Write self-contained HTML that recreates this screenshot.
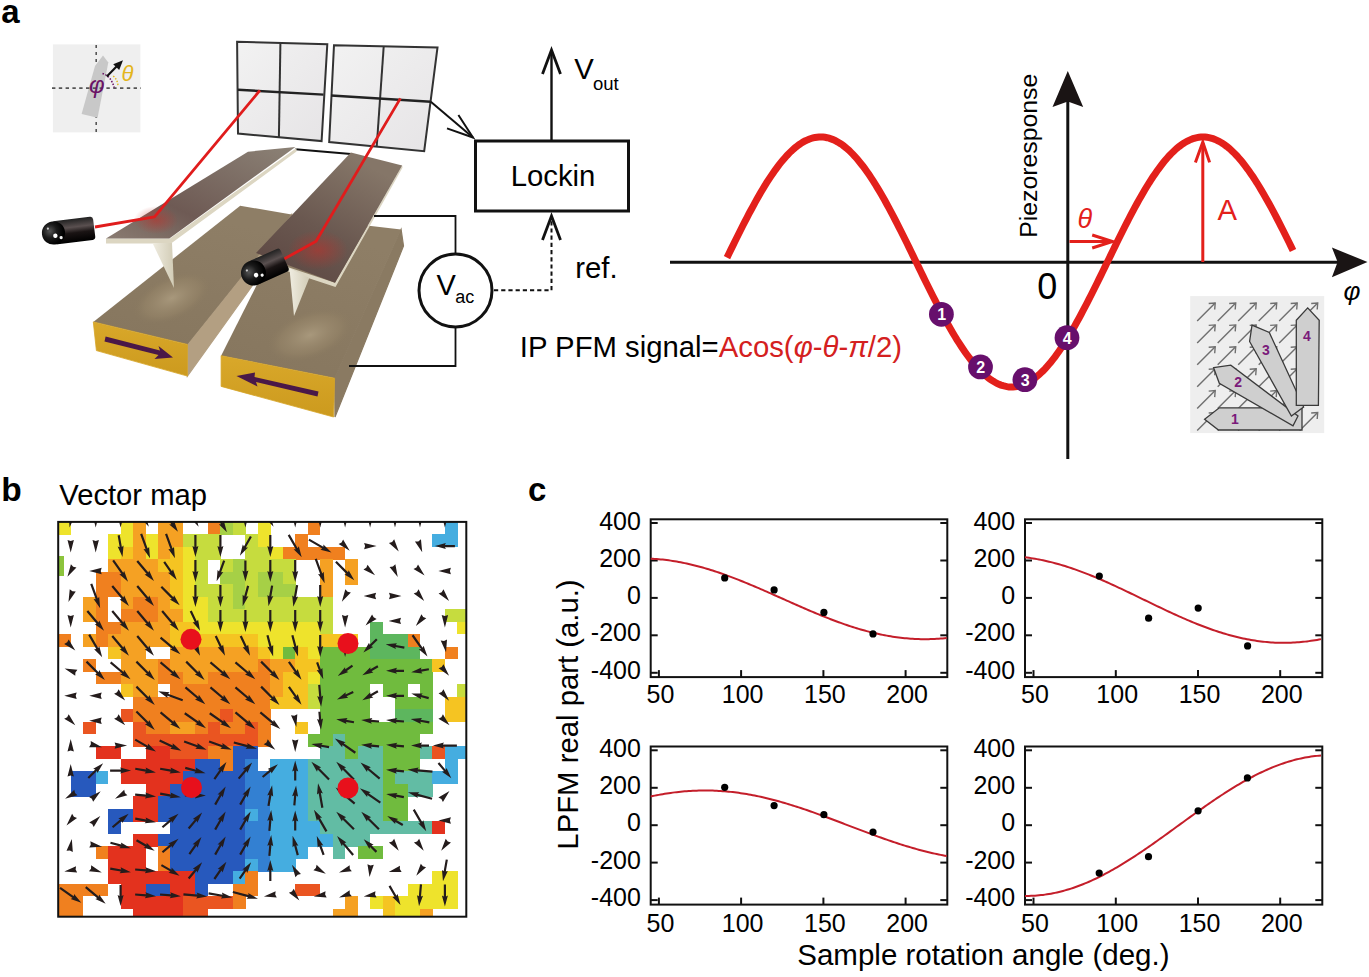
<!DOCTYPE html>
<html><head><meta charset="utf-8"><style>
html,body{margin:0;padding:0;background:#fff;}
svg{display:block;}
</style></head><body>
<svg width="1369" height="977" viewBox="0 0 1369 977">
<rect width="1369" height="977" fill="#fff"/>
<text x="1.3" y="23" font-size="33" font-weight="bold" font-family="Liberation Sans, sans-serif">a</text>
<text x="1.3" y="501.3" font-size="33.5" font-weight="bold" font-family="Liberation Sans, sans-serif">b</text>
<text x="528" y="500.8" font-size="33" font-weight="bold" font-family="Liberation Sans, sans-serif">c</text>
<text x="59.3" y="504.5" font-size="29.2" font-family="Liberation Sans, sans-serif">Vector map</text>
<defs>
<linearGradient id="cantA" x1="0" y1="1" x2="1" y2="0"><stop offset="0" stop-color="#8a7c72"/><stop offset="0.35" stop-color="#6e5a54"/><stop offset="1" stop-color="#8c8276"/></linearGradient>
<linearGradient id="cantB" x1="0" y1="1" x2="0.6" y2="0"><stop offset="0" stop-color="#5a4440"/><stop offset="0.5" stop-color="#6a5850"/><stop offset="1" stop-color="#857668"/></linearGradient>
<radialGradient id="glow" cx="0.5" cy="0.5" r="0.5"><stop offset="0" stop-color="#c0302a" stop-opacity="0.55"/><stop offset="1" stop-color="#c0302a" stop-opacity="0"/></radialGradient>
<linearGradient id="blockTop" x1="0" y1="1" x2="0.4" y2="0"><stop offset="0" stop-color="#86765e"/><stop offset="1" stop-color="#8e7e66"/></linearGradient>
<radialGradient id="bump" cx="0.5" cy="0.5" r="0.5"><stop offset="0" stop-color="#a8987c"/><stop offset="0.7" stop-color="#958468" stop-opacity="0.6"/><stop offset="1" stop-color="#8a7a60" stop-opacity="0"/></radialGradient>
<linearGradient id="gold" x1="0" y1="0" x2="0" y2="1"><stop offset="0" stop-color="#d9a82a"/><stop offset="1" stop-color="#cc9a1e"/></linearGradient>
<linearGradient id="det" x1="0" y1="0" x2="1" y2="1"><stop offset="0" stop-color="#f2f2f2"/><stop offset="1" stop-color="#e6e4e6"/></linearGradient>
<radialGradient id="lasball" cx="0.35" cy="0.4" r="0.6"><stop offset="0" stop-color="#555"/><stop offset="0.5" stop-color="#1a1a1a"/><stop offset="1" stop-color="#000"/></radialGradient>
<linearGradient id="lascyl" x1="0" y1="0" x2="0" y2="1"><stop offset="0" stop-color="#222"/><stop offset="0.35" stop-color="#5a5050"/><stop offset="0.6" stop-color="#1a1414"/><stop offset="1" stop-color="#000"/></linearGradient>
<linearGradient id="tipg" x1="0" y1="0" x2="1" y2="0"><stop offset="0" stop-color="#efece0"/><stop offset="1" stop-color="#d2ccb6"/></linearGradient>
</defs>
<polygon points="237.1,41.8 327.3,44.2 321.6,141.1 238,133.5" fill="url(#det)" stroke="#333" stroke-width="2"/>
<line x1="280.4" y1="43.3" x2="278.9" y2="137.3" stroke="#333" stroke-width="2"/><line x1="238" y1="89.8" x2="323.5" y2="94.6" stroke="#222" stroke-width="2.4"/>
<polygon points="334,45.2 437.5,47.5 424.2,151.2 329.2,142" fill="url(#det)" stroke="#333" stroke-width="2"/>
<line x1="383.7" y1="46.5" x2="376.7" y2="146.8" stroke="#333" stroke-width="2"/><line x1="331.1" y1="95.5" x2="430.8" y2="101.8" stroke="#222" stroke-width="2.4"/>
<line x1="295.4" y1="149.3" x2="350.9" y2="154.1" stroke="#111" stroke-width="2"/>
<polygon points="187.4,344.4 291.6,214.5 291.6,231 187.4,376.1" fill="#b39f82" stroke="#b39f82" stroke-width="1.2"/>
<polygon points="93.3,321.9 240.2,205.7 291.6,214.5 187.4,344.4" fill="url(#blockTop)"/>
<ellipse cx="172" cy="298" rx="42" ry="22" transform="rotate(-25 172 298)" fill="url(#bump)"/>
<polygon points="93.3,321.9 187.4,344.4 187.4,376.1 96.4,350.6" fill="url(#gold)" stroke="#d6a428" stroke-width="0.8"/>
<path d="M105.6,336.5 L160,350.5 L158.5,346 L173,357.5 L154.5,359 L158.5,355 L104.5,341.5 Z" fill="#4a1848"/>
<polygon points="334.6,378.2 401.1,229.4 403.5,246 335,417" fill="#8a7a62" stroke="#8a7a62" stroke-width="1.2"/>
<polygon points="221.1,355.7 290.5,218 371,226.1 401.1,229.4 334.6,378.2" fill="url(#blockTop)"/>
<ellipse cx="310" cy="335" rx="45" ry="24" transform="rotate(-20 310 335)" fill="url(#bump)"/>
<polygon points="221.1,355.7 334.6,378.2 333.6,417 221.1,386.4" fill="url(#gold)" stroke="#d6a428" stroke-width="0.8"/>
<path d="M317.5,396.5 L256,382 L257.5,386.5 L236.5,376 L255,372.5 L254.5,377 L318.5,391.5 Z" fill="#4a1848"/>
<polygon points="106,238.5 170,238.5 296.5,148 296.5,151.5 171,243.5 106,243.5" fill="#dcd6c2"/>
<polygon points="106,238.5 248,151.7 295.4,146.9 169.3,238.5" fill="url(#cantA)"/>
<ellipse cx="156" cy="220" rx="22" ry="14" fill="url(#glow)"/>
<polygon points="152.5,243 172,243 174,288" fill="url(#tipg)"/>
<polygon points="286.8,266.8 335,282.8 402.2,165.6 402.6,167.5 335.5,287 286.8,271" fill="#dcd6c2"/>
<polygon points="256,253 350.9,152.5 402.2,165.6 335,282.8" fill="url(#cantB)"/>
<ellipse cx="318" cy="250" rx="30" ry="20" fill="url(#glow)"/>
<polygon points="289.4,268 309.3,278 294,316" fill="url(#tipg)"/>
<polyline points="95,227 154.5,216.8 259.9,90.4" fill="none" stroke="#e01c1c" stroke-width="2.8" stroke-linejoin="round"/>
<polyline points="284,259 316.1,241.3 400.4,98.4" fill="none" stroke="#e01c1c" stroke-width="2.8" stroke-linejoin="round"/>
<g transform="translate(53.5,233) rotate(-7)"><rect x="0" y="-11.6" width="41" height="23.2" rx="3" fill="url(#lascyl)"/><circle cx="0" cy="0" r="11.6" fill="url(#lasball)"/><circle cx="1.5" cy="3" r="2.2" fill="#fff"/><circle cx="7" cy="5.5" r="1.6" fill="#f4f4f4"/><circle cx="-5" cy="-5" r="1.1" fill="#ccc"/></g>
<g transform="translate(253.5,273) rotate(-24)"><rect x="0" y="-12.5" width="34" height="25.0" rx="3" fill="url(#lascyl)"/><circle cx="0" cy="0" r="12.5" fill="url(#lasball)"/><circle cx="1.5" cy="3" r="2.2" fill="#fff"/><circle cx="7" cy="5.5" r="1.6" fill="#f4f4f4"/><circle cx="-5" cy="-5" r="1.1" fill="#ccc"/></g>
<g stroke="#111" fill="none">
<rect x="475.5" y="141" width="153" height="70" stroke-width="3"/>
<line x1="551.5" y1="140" x2="551.5" y2="51" stroke-width="2.4"/>
<polyline points="542.5,74 551.5,50 560.5,74" stroke-width="2.8"/>
<polyline points="494,290.3 551.5,290.3 551.5,218" stroke-width="2" stroke-dasharray="4.2,3"/>
<polyline points="542.5,240 551.5,216 560.5,240" stroke-width="2.8"/>
<circle cx="455.5" cy="290.5" r="36.5" stroke-width="3"/>
<polyline points="374,216 455.5,216 455.5,254" stroke-width="1.8"/>
<polyline points="455.5,327 455.5,366 349,366" stroke-width="1.8"/>
<line x1="430.8" y1="101.8" x2="473" y2="137.5" stroke-width="2"/>
<polyline points="458.4,115 473,137.5 447,128.4" stroke-width="2"/>
</g>
<text x="510.7" y="186.2" font-size="29.3" font-family="Liberation Sans, sans-serif">Lockin</text>
<text x="574.2" y="79.1" font-size="29.3" font-family="Liberation Sans, sans-serif">V</text>
<text x="593" y="89.8" font-size="18.5" font-family="Liberation Sans, sans-serif">out</text>
<text x="575.2" y="278.3" font-size="29.3" font-family="Liberation Sans, sans-serif">ref.</text>
<text x="436.6" y="294.5" font-size="29" font-family="Liberation Sans, sans-serif">V</text>
<text x="455.3" y="302.9" font-size="18" font-family="Liberation Sans, sans-serif">ac</text>
<text x="519.8" y="356.6" font-size="29.3" font-family="Liberation Sans, sans-serif">IP PFM signal=<tspan fill="#d42020">Acos(<tspan font-style="italic">φ</tspan>-<tspan font-style="italic">θ</tspan>-<tspan font-style="italic">π</tspan>/2)</tspan></text>
<line x1="670" y1="262.2" x2="1340" y2="262.2" stroke="#111" stroke-width="3"/>
<path d="M1367.5,262.1 L1331.9,247.4 L1337.6,262.1 L1331.9,277.3 Z" fill="#1a1414"/>
<line x1="1067.8" y1="459" x2="1067.8" y2="100" stroke="#111" stroke-width="3"/>
<path d="M1067.8,71 L1052.5,107 L1067.8,101.5 L1083.2,107 Z" fill="#1a1414"/>
<polyline points="727.0,257.6 729.0,253.5 731.0,249.4 733.0,245.4 735.0,241.3 737.0,237.3 739.0,233.3 741.0,229.3 743.0,225.3 745.0,221.4 747.0,217.6 749.0,213.7 751.0,210.0 753.0,206.3 755.0,202.6 757.0,199.1 759.0,195.5 761.0,192.1 763.0,188.7 765.0,185.4 767.0,182.2 769.0,179.1 771.0,176.1 773.0,173.2 775.0,170.3 777.0,167.6 779.0,164.9 781.0,162.4 783.0,160.0 785.0,157.7 787.0,155.5 789.0,153.4 791.0,151.4 793.0,149.5 795.0,147.8 797.0,146.2 799.0,144.7 801.0,143.4 803.0,142.1 805.0,141.0 807.0,140.1 809.0,139.2 811.0,138.5 813.0,137.9 815.0,137.5 817.0,137.2 819.0,137.0 821.0,137.0 823.0,137.1 825.0,137.3 827.0,137.7 829.0,138.2 831.0,138.9 833.0,139.6 835.0,140.5 837.0,141.6 839.0,142.7 841.0,144.0 843.0,145.4 845.0,147.0 847.0,148.7 849.0,150.4 851.0,152.4 853.0,154.4 855.0,156.5 857.0,158.8 859.0,161.2 861.0,163.7 863.0,166.2 865.0,168.9 867.0,171.7 869.0,174.6 871.0,177.6 873.0,180.7 875.0,183.8 877.0,187.1 879.0,190.4 881.0,193.8 883.0,197.3 885.0,200.8 887.0,204.5 889.0,208.1 891.0,211.9 893.0,215.7 895.0,219.5 897.0,223.4 899.0,227.3 901.0,231.3 903.0,235.3 905.0,239.3 907.0,243.3 909.0,247.4 911.0,251.5 913.0,255.6 915.0,259.7 917.0,263.8 919.0,267.9 921.0,272.0 923.0,276.1 925.0,280.2 927.0,284.2 929.0,288.2 931.0,292.2 933.0,296.2 935.0,300.1 937.0,304.0 939.0,307.9 941.0,311.7 943.0,315.4 945.0,319.1 947.0,322.7 949.0,326.3 951.0,329.8 953.0,333.2 955.0,336.5 957.0,339.8 959.0,342.9 961.0,346.0 963.0,349.0 965.0,351.9 967.0,354.7 969.0,357.4 971.0,360.0 973.0,362.5 975.0,364.9 977.0,367.2 979.0,369.3 981.0,371.4 983.0,373.3 985.0,375.1 987.0,376.8 989.0,378.4 991.0,379.8 993.0,381.1 995.0,382.3 997.0,383.3 999.0,384.3 1001.0,385.1 1003.0,385.7 1005.0,386.2 1007.0,386.6 1009.0,386.9 1011.0,387.0 1013.0,387.0 1015.0,386.8 1017.0,386.5 1019.0,386.1 1021.0,385.6 1023.0,384.9 1025.0,384.1 1027.0,383.1 1029.0,382.0 1031.0,380.8 1033.0,379.5 1035.0,378.0 1037.0,376.4 1039.0,374.7 1041.0,372.8 1043.0,370.9 1045.0,368.8 1047.0,366.6 1049.0,364.3 1051.0,361.9 1053.0,359.4 1055.0,356.8 1057.0,354.0 1059.0,351.2 1061.0,348.3 1063.0,345.3 1065.0,342.2 1067.0,339.0 1069.0,335.7 1071.0,332.3 1073.0,328.9 1075.0,325.4 1077.0,321.8 1079.0,318.2 1081.0,314.5 1083.0,310.7 1085.0,306.9 1087.0,303.1 1089.0,299.2 1091.0,295.2 1093.0,291.2 1095.0,287.2 1097.0,283.2 1099.0,279.1 1101.0,275.1 1103.0,271.0 1105.0,266.9 1107.0,262.8 1109.0,258.7 1111.0,254.6 1113.0,250.5 1115.0,246.4 1117.0,242.3 1119.0,238.3 1121.0,234.3 1123.0,230.3 1125.0,226.3 1127.0,222.4 1129.0,218.5 1131.0,214.7 1133.0,210.9 1135.0,207.2 1137.0,203.5 1139.0,199.9 1141.0,196.4 1143.0,193.0 1145.0,189.6 1147.0,186.3 1149.0,183.0 1151.0,179.9 1153.0,176.8 1155.0,173.9 1157.0,171.0 1159.0,168.3 1161.0,165.6 1163.0,163.0 1165.0,160.6 1167.0,158.2 1169.0,156.0 1171.0,153.9 1173.0,151.9 1175.0,150.0 1177.0,148.2 1179.0,146.6 1181.0,145.1 1183.0,143.7 1185.0,142.4 1187.0,141.3 1189.0,140.3 1191.0,139.4 1193.0,138.7 1195.0,138.1 1197.0,137.6 1199.0,137.3 1201.0,137.1 1203.0,137.0 1205.0,137.1 1207.0,137.3 1209.0,137.6 1211.0,138.1 1213.0,138.7 1215.0,139.4 1217.0,140.3 1219.0,141.3 1221.0,142.4 1223.0,143.7 1225.0,145.1 1227.0,146.6 1229.0,148.2 1231.0,150.0 1233.0,151.9 1235.0,153.9 1237.0,156.0 1239.0,158.2 1241.0,160.6 1243.0,163.0 1245.0,165.6 1247.0,168.3 1249.0,171.0 1251.0,173.9 1253.0,176.8 1255.0,179.9 1257.0,183.0 1259.0,186.3 1261.0,189.6 1263.0,193.0 1265.0,196.4 1267.0,199.9 1269.0,203.5 1271.0,207.2 1273.0,210.9 1275.0,214.7 1277.0,218.5 1279.0,222.4 1281.0,226.3 1283.0,230.3 1285.0,234.3 1287.0,238.3 1289.0,242.3 1291.0,246.4 1293.0,250.5" fill="none" stroke="#e3201b" stroke-width="7"/>
<g stroke="#e3201b" stroke-width="3" fill="none"><line x1="1069.5" y1="241.5" x2="1111" y2="241.5"/><polyline points="1092.2,235 1112.5,241.5 1092.2,248"/>
<line x1="1202.8" y1="262" x2="1202.8" y2="143"/><polyline points="1195.4,162.4 1202.8,142 1209.6,162.4"/></g>
<text x="1077.5" y="227.8" font-size="27" font-style="italic" fill="#e3201b" font-family="Liberation Sans, sans-serif">θ</text>
<text x="1217.6" y="219.5" font-size="29.3" fill="#e3201b" font-family="Liberation Sans, sans-serif">A</text>
<text x="1037.3" y="298.6" font-size="36" font-family="Liberation Sans, sans-serif">0</text>
<text x="1343.6" y="299.5" font-size="26" font-style="italic" font-family="Liberation Sans, sans-serif">φ</text>
<text transform="translate(1037,237.8) rotate(-90)" font-size="24.8" font-family="Liberation Sans, sans-serif">Piezoresponse</text>
<circle cx="941.4" cy="314.3" r="12.4" fill="#670f6c"/>
<text x="941.6999999999999" y="320.1" font-size="16" font-weight="bold" fill="#fff" text-anchor="middle" font-family="Liberation Sans, sans-serif">1</text>
<circle cx="980.5" cy="366.9" r="12.4" fill="#670f6c"/>
<text x="980.8" y="372.7" font-size="16" font-weight="bold" fill="#fff" text-anchor="middle" font-family="Liberation Sans, sans-serif">2</text>
<circle cx="1024.9" cy="379.7" r="12.4" fill="#670f6c"/>
<text x="1025.2" y="385.5" font-size="16" font-weight="bold" fill="#fff" text-anchor="middle" font-family="Liberation Sans, sans-serif">3</text>
<circle cx="1067" cy="337.7" r="12.4" fill="#670f6c"/>
<text x="1067.3" y="343.5" font-size="16" font-weight="bold" fill="#fff" text-anchor="middle" font-family="Liberation Sans, sans-serif">4</text>
<rect x="1190.2" y="296.1" width="134" height="137" fill="#eeeeee"/>
<defs><clipPath id="insclip"><rect x="1190.2" y="296.1" width="134" height="137"/></clipPath></defs>
<g clip-path="url(#insclip)" stroke="#6f6f6f" stroke-width="1.4" fill="none">
<line x1="1197.2" y1="321.0" x2="1215.2" y2="303.0"/><polyline points="1208.7,303.5 1215.2,303.0 1214.7,309.5"/>
<line x1="1197.2" y1="342.9" x2="1215.2" y2="324.9"/><polyline points="1208.7,325.4 1215.2,324.9 1214.7,331.4"/>
<line x1="1197.2" y1="364.8" x2="1215.2" y2="346.8"/><polyline points="1208.7,347.3 1215.2,346.8 1214.7,353.3"/>
<line x1="1197.2" y1="386.7" x2="1215.2" y2="368.7"/><polyline points="1208.7,369.2 1215.2,368.7 1214.7,375.2"/>
<line x1="1197.2" y1="408.6" x2="1215.2" y2="390.6"/><polyline points="1208.7,391.1 1215.2,390.6 1214.7,397.1"/>
<line x1="1197.2" y1="430.5" x2="1215.2" y2="412.5"/><polyline points="1208.7,413.0 1215.2,412.5 1214.7,419.0"/>
<line x1="1217.7" y1="321.0" x2="1235.7" y2="303.0"/><polyline points="1229.2,303.5 1235.7,303.0 1235.2,309.5"/>
<line x1="1217.7" y1="342.9" x2="1235.7" y2="324.9"/><polyline points="1229.2,325.4 1235.7,324.9 1235.2,331.4"/>
<line x1="1217.7" y1="364.8" x2="1235.7" y2="346.8"/><polyline points="1229.2,347.3 1235.7,346.8 1235.2,353.3"/>
<line x1="1217.7" y1="386.7" x2="1235.7" y2="368.7"/><polyline points="1229.2,369.2 1235.7,368.7 1235.2,375.2"/>
<line x1="1217.7" y1="408.6" x2="1235.7" y2="390.6"/><polyline points="1229.2,391.1 1235.7,390.6 1235.2,397.1"/>
<line x1="1217.7" y1="430.5" x2="1235.7" y2="412.5"/><polyline points="1229.2,413.0 1235.7,412.5 1235.2,419.0"/>
<line x1="1238.2" y1="321.0" x2="1256.2" y2="303.0"/><polyline points="1249.7,303.5 1256.2,303.0 1255.7,309.5"/>
<line x1="1238.2" y1="342.9" x2="1256.2" y2="324.9"/><polyline points="1249.7,325.4 1256.2,324.9 1255.7,331.4"/>
<line x1="1238.2" y1="364.8" x2="1256.2" y2="346.8"/><polyline points="1249.7,347.3 1256.2,346.8 1255.7,353.3"/>
<line x1="1238.2" y1="386.7" x2="1256.2" y2="368.7"/><polyline points="1249.7,369.2 1256.2,368.7 1255.7,375.2"/>
<line x1="1238.2" y1="408.6" x2="1256.2" y2="390.6"/><polyline points="1249.7,391.1 1256.2,390.6 1255.7,397.1"/>
<line x1="1238.2" y1="430.5" x2="1256.2" y2="412.5"/><polyline points="1249.7,413.0 1256.2,412.5 1255.7,419.0"/>
<line x1="1258.7" y1="321.0" x2="1276.7" y2="303.0"/><polyline points="1270.2,303.5 1276.7,303.0 1276.2,309.5"/>
<line x1="1258.7" y1="342.9" x2="1276.7" y2="324.9"/><polyline points="1270.2,325.4 1276.7,324.9 1276.2,331.4"/>
<line x1="1258.7" y1="364.8" x2="1276.7" y2="346.8"/><polyline points="1270.2,347.3 1276.7,346.8 1276.2,353.3"/>
<line x1="1258.7" y1="386.7" x2="1276.7" y2="368.7"/><polyline points="1270.2,369.2 1276.7,368.7 1276.2,375.2"/>
<line x1="1258.7" y1="408.6" x2="1276.7" y2="390.6"/><polyline points="1270.2,391.1 1276.7,390.6 1276.2,397.1"/>
<line x1="1258.7" y1="430.5" x2="1276.7" y2="412.5"/><polyline points="1270.2,413.0 1276.7,412.5 1276.2,419.0"/>
<line x1="1279.2" y1="321.0" x2="1297.2" y2="303.0"/><polyline points="1290.7,303.5 1297.2,303.0 1296.7,309.5"/>
<line x1="1279.2" y1="342.9" x2="1297.2" y2="324.9"/><polyline points="1290.7,325.4 1297.2,324.9 1296.7,331.4"/>
<line x1="1279.2" y1="364.8" x2="1297.2" y2="346.8"/><polyline points="1290.7,347.3 1297.2,346.8 1296.7,353.3"/>
<line x1="1279.2" y1="386.7" x2="1297.2" y2="368.7"/><polyline points="1290.7,369.2 1297.2,368.7 1296.7,375.2"/>
<line x1="1279.2" y1="408.6" x2="1297.2" y2="390.6"/><polyline points="1290.7,391.1 1297.2,390.6 1296.7,397.1"/>
<line x1="1279.2" y1="430.5" x2="1297.2" y2="412.5"/><polyline points="1290.7,413.0 1297.2,412.5 1296.7,419.0"/>
<line x1="1299.7" y1="321.0" x2="1317.7" y2="303.0"/><polyline points="1311.2,303.5 1317.7,303.0 1317.2,309.5"/>
<line x1="1299.7" y1="342.9" x2="1317.7" y2="324.9"/><polyline points="1311.2,325.4 1317.7,324.9 1317.2,331.4"/>
<line x1="1299.7" y1="364.8" x2="1317.7" y2="346.8"/><polyline points="1311.2,347.3 1317.7,346.8 1317.2,353.3"/>
<line x1="1299.7" y1="386.7" x2="1317.7" y2="368.7"/><polyline points="1311.2,369.2 1317.7,368.7 1317.2,375.2"/>
<line x1="1299.7" y1="408.6" x2="1317.7" y2="390.6"/><polyline points="1311.2,391.1 1317.7,390.6 1317.2,397.1"/>
<line x1="1299.7" y1="430.5" x2="1317.7" y2="412.5"/><polyline points="1311.2,413.0 1317.7,412.5 1317.2,419.0"/>
</g>
<polygon points="1204.6,419.3 1219.3,407.8 1302,407.8 1302,430 1218.5,430" fill="#cfcfcf" stroke="#3a3a3a" stroke-width="1.3"/>
<polygon points="1213.6,367.7 1230.8,365.2 1298,416 1293,425.8 1219.3,383.3" fill="#cfcfcf" stroke="#3a3a3a" stroke-width="1.3"/>
<polygon points="1252,325.1 1269.3,332.5 1303.6,407 1291.4,416 1249.6,341.5" fill="#cfcfcf" stroke="#3a3a3a" stroke-width="1.3"/>
<polygon points="1296.3,320.2 1307.7,307.9 1319.2,320.2 1318.4,405.4 1296.3,405.4" fill="#cfcfcf" stroke="#3a3a3a" stroke-width="1.3"/>
<text x="1234.9" y="424" font-size="14" font-weight="bold" fill="#7a1a7a" text-anchor="middle" font-family="Liberation Sans, sans-serif">1</text>
<text x="1238.1" y="387" font-size="14" font-weight="bold" fill="#7a1a7a" text-anchor="middle" font-family="Liberation Sans, sans-serif">2</text>
<text x="1266" y="354.5" font-size="14" font-weight="bold" fill="#7a1a7a" text-anchor="middle" font-family="Liberation Sans, sans-serif">3</text>
<text x="1306.9" y="341.3" font-size="14" font-weight="bold" fill="#7a1a7a" text-anchor="middle" font-family="Liberation Sans, sans-serif">4</text>
<rect x="52.9" y="44.4" width="87.5" height="88" fill="#efefef"/>
<line x1="96.2" y1="45" x2="96.2" y2="132" stroke="#555" stroke-width="1.6" stroke-dasharray="3,4"/>
<polygon points="81.6,113.9 95,66 103,55.6 108.3,62.4 97.6,117.8" fill="#c8c8c8"/>
<line x1="52" y1="88.1" x2="141" y2="88.1" stroke="#555" stroke-width="1.6" stroke-dasharray="3.4,3.4"/>
<path d="M102.5,73.5 Q111,76 114.2,87.6" fill="none" stroke="#6b1366" stroke-width="1.5" stroke-dasharray="1.5,1.5"/>
<path d="M113.2,76 Q118,80 118,86.7" fill="none" stroke="#e0b820" stroke-width="1.5" stroke-dasharray="1.5,1.5"/>
<line x1="106.8" y1="76.5" x2="117.5" y2="65.5" stroke="#111" stroke-width="2.1"/>
<polygon points="123,60.2 113.2,64.2 119.2,70" fill="#111"/>
<text x="89" y="92.5" font-size="24" font-style="italic" fill="#6b1366" font-family="Liberation Sans, sans-serif">φ</text>
<text x="121.5" y="80.5" font-size="22" font-style="italic" fill="#e3b51c" font-family="Liberation Sans, sans-serif">θ</text>
<rect x="650.7" y="519.3" width="296.5999999999999" height="157.80000000000007" fill="none" stroke="#111" stroke-width="2"/>
<line x1="650.7" y1="523.0" x2="657.7" y2="523.0" stroke="#111" stroke-width="2"/>
<line x1="940.3" y1="523.0" x2="947.3" y2="523.0" stroke="#111" stroke-width="2"/>
<text x="640.9000000000001" y="529.5" font-size="25" text-anchor="end" font-family="Liberation Sans, sans-serif">400</text>
<line x1="650.7" y1="560.5" x2="657.7" y2="560.5" stroke="#111" stroke-width="2"/>
<line x1="940.3" y1="560.5" x2="947.3" y2="560.5" stroke="#111" stroke-width="2"/>
<text x="640.9000000000001" y="566.7" font-size="25" text-anchor="end" font-family="Liberation Sans, sans-serif">200</text>
<line x1="650.7" y1="597.9" x2="657.7" y2="597.9" stroke="#111" stroke-width="2"/>
<line x1="940.3" y1="597.9" x2="947.3" y2="597.9" stroke="#111" stroke-width="2"/>
<text x="640.9000000000001" y="604.0" font-size="25" text-anchor="end" font-family="Liberation Sans, sans-serif">0</text>
<line x1="650.7" y1="635.3" x2="657.7" y2="635.3" stroke="#111" stroke-width="2"/>
<line x1="940.3" y1="635.3" x2="947.3" y2="635.3" stroke="#111" stroke-width="2"/>
<text x="640.9000000000001" y="641.2" font-size="25" text-anchor="end" font-family="Liberation Sans, sans-serif">-200</text>
<line x1="650.7" y1="672.8" x2="657.7" y2="672.8" stroke="#111" stroke-width="2"/>
<line x1="940.3" y1="672.8" x2="947.3" y2="672.8" stroke="#111" stroke-width="2"/>
<text x="640.9000000000001" y="678.5" font-size="25" text-anchor="end" font-family="Liberation Sans, sans-serif">-400</text>
<line x1="658.9" y1="677.1" x2="658.9" y2="670.1" stroke="#111" stroke-width="2"/>
<text x="660.4" y="703.4" font-size="25" text-anchor="middle" font-family="Liberation Sans, sans-serif">50</text>
<line x1="741.1" y1="677.1" x2="741.1" y2="670.1" stroke="#111" stroke-width="2"/>
<text x="742.6" y="703.4" font-size="25" text-anchor="middle" font-family="Liberation Sans, sans-serif">100</text>
<line x1="823.4" y1="677.1" x2="823.4" y2="670.1" stroke="#111" stroke-width="2"/>
<text x="824.9" y="703.4" font-size="25" text-anchor="middle" font-family="Liberation Sans, sans-serif">150</text>
<line x1="905.6" y1="677.1" x2="905.6" y2="670.1" stroke="#111" stroke-width="2"/>
<text x="907.1" y="703.4" font-size="25" text-anchor="middle" font-family="Liberation Sans, sans-serif">200</text>
<polyline points="650.7,558.68 652.7,558.78 654.7,558.91 656.7,559.06 658.7,559.23 660.7,559.42 662.7,559.62 664.7,559.85 666.7,560.09 668.7,560.35 670.7,560.63 672.7,560.94 674.7,561.25 676.7,561.59 678.7,561.95 680.7,562.32 682.7,562.71 684.7,563.12 686.7,563.55 688.7,563.99 690.7,564.45 692.7,564.93 694.7,565.42 696.7,565.93 698.7,566.46 700.7,567.00 702.7,567.56 704.7,568.13 706.7,568.72 708.7,569.32 710.7,569.94 712.7,570.57 714.7,571.22 716.7,571.87 718.7,572.55 720.7,573.23 722.7,573.93 724.7,574.64 726.7,575.36 728.7,576.09 730.7,576.83 732.7,577.59 734.7,578.35 736.7,579.13 738.7,579.91 740.7,580.70 742.7,581.51 744.7,582.32 746.7,583.14 748.7,583.96 750.7,584.80 752.7,585.64 754.7,586.48 756.7,587.34 758.7,588.19 760.7,589.06 762.7,589.93 764.7,590.80 766.7,591.68 768.7,592.56 770.7,593.44 772.7,594.33 774.7,595.21 776.7,596.10 778.7,596.99 780.7,597.89 782.7,598.78 784.7,599.67 786.7,600.56 788.7,601.45 790.7,602.34 792.7,603.23 794.7,604.12 796.7,605.00 798.7,605.88 800.7,606.76 802.7,607.63 804.7,608.50 806.7,609.37 808.7,610.22 810.7,611.08 812.7,611.92 814.7,612.77 816.7,613.60 818.7,614.43 820.7,615.25 822.7,616.06 824.7,616.86 826.7,617.65 828.7,618.44 830.7,619.21 832.7,619.98 834.7,620.73 836.7,621.48 838.7,622.21 840.7,622.93 842.7,623.64 844.7,624.34 846.7,625.02 848.7,625.70 850.7,626.35 852.7,627.00 854.7,627.63 856.7,628.25 858.7,628.85 860.7,629.44 862.7,630.02 864.7,630.57 866.7,631.12 868.7,631.64 870.7,632.16 872.7,632.65 874.7,633.13 876.7,633.59 878.7,634.03 880.7,634.46 882.7,634.87 884.7,635.26 886.7,635.64 888.7,635.99 890.7,636.33 892.7,636.65 894.7,636.95 896.7,637.24 898.7,637.50 900.7,637.75 902.7,637.97 904.7,638.18 906.7,638.37 908.7,638.54 910.7,638.68 912.7,638.81 914.7,638.92 916.7,639.01 918.7,639.08 920.7,639.14 922.7,639.17 924.7,639.18 926.7,639.17 928.7,639.14 930.7,639.09 932.7,639.03 934.7,638.94 936.7,638.83 938.7,638.71 940.7,638.56 942.7,638.40 944.7,638.21 946.7,638.01" fill="none" stroke="#c41e2a" stroke-width="2"/>
<circle cx="724.7" cy="577.9" r="3.6" fill="#000"/>
<circle cx="774.1" cy="589.9" r="3.6" fill="#000"/>
<circle cx="823.9" cy="612.4" r="3.6" fill="#000"/>
<circle cx="873" cy="633.9" r="3.6" fill="#000"/>
<rect x="1025" y="519.3" width="297.29999999999995" height="157.80000000000007" fill="none" stroke="#111" stroke-width="2"/>
<line x1="1025" y1="523.0" x2="1032" y2="523.0" stroke="#111" stroke-width="2"/>
<line x1="1315.3" y1="523.0" x2="1322.3" y2="523.0" stroke="#111" stroke-width="2"/>
<text x="1015.2" y="529.5" font-size="25" text-anchor="end" font-family="Liberation Sans, sans-serif">400</text>
<line x1="1025" y1="560.5" x2="1032" y2="560.5" stroke="#111" stroke-width="2"/>
<line x1="1315.3" y1="560.5" x2="1322.3" y2="560.5" stroke="#111" stroke-width="2"/>
<text x="1015.2" y="566.7" font-size="25" text-anchor="end" font-family="Liberation Sans, sans-serif">200</text>
<line x1="1025" y1="597.9" x2="1032" y2="597.9" stroke="#111" stroke-width="2"/>
<line x1="1315.3" y1="597.9" x2="1322.3" y2="597.9" stroke="#111" stroke-width="2"/>
<text x="1015.2" y="604.0" font-size="25" text-anchor="end" font-family="Liberation Sans, sans-serif">0</text>
<line x1="1025" y1="635.3" x2="1032" y2="635.3" stroke="#111" stroke-width="2"/>
<line x1="1315.3" y1="635.3" x2="1322.3" y2="635.3" stroke="#111" stroke-width="2"/>
<text x="1015.2" y="641.2" font-size="25" text-anchor="end" font-family="Liberation Sans, sans-serif">-200</text>
<line x1="1025" y1="672.8" x2="1032" y2="672.8" stroke="#111" stroke-width="2"/>
<line x1="1315.3" y1="672.8" x2="1322.3" y2="672.8" stroke="#111" stroke-width="2"/>
<text x="1015.2" y="678.5" font-size="25" text-anchor="end" font-family="Liberation Sans, sans-serif">-400</text>
<line x1="1033.5" y1="677.1" x2="1033.5" y2="670.1" stroke="#111" stroke-width="2"/>
<text x="1035.0" y="703.4" font-size="25" text-anchor="middle" font-family="Liberation Sans, sans-serif">50</text>
<line x1="1115.8" y1="677.1" x2="1115.8" y2="670.1" stroke="#111" stroke-width="2"/>
<text x="1117.2" y="703.4" font-size="25" text-anchor="middle" font-family="Liberation Sans, sans-serif">100</text>
<line x1="1198.0" y1="677.1" x2="1198.0" y2="670.1" stroke="#111" stroke-width="2"/>
<text x="1199.5" y="703.4" font-size="25" text-anchor="middle" font-family="Liberation Sans, sans-serif">150</text>
<line x1="1280.2" y1="677.1" x2="1280.2" y2="670.1" stroke="#111" stroke-width="2"/>
<text x="1281.8" y="703.4" font-size="25" text-anchor="middle" font-family="Liberation Sans, sans-serif">200</text>
<polyline points="1025.0,557.31 1027.0,557.56 1029.0,557.83 1031.0,558.12 1033.0,558.44 1035.0,558.77 1037.0,559.12 1039.0,559.50 1041.0,559.89 1043.0,560.30 1045.0,560.73 1047.0,561.19 1049.0,561.66 1051.0,562.15 1053.0,562.65 1055.0,563.18 1057.0,563.73 1059.0,564.29 1061.0,564.87 1063.0,565.47 1065.0,566.08 1067.0,566.71 1069.0,567.36 1071.0,568.02 1073.0,568.70 1075.0,569.39 1077.0,570.10 1079.0,570.83 1081.0,571.57 1083.0,572.32 1085.0,573.08 1087.0,573.86 1089.0,574.65 1091.0,575.46 1093.0,576.27 1095.0,577.10 1097.0,577.94 1099.0,578.79 1101.0,579.65 1103.0,580.52 1105.0,581.40 1107.0,582.28 1109.0,583.18 1111.0,584.09 1113.0,585.00 1115.0,585.92 1117.0,586.84 1119.0,587.78 1121.0,588.71 1123.0,589.66 1125.0,590.61 1127.0,591.56 1129.0,592.52 1131.0,593.48 1133.0,594.44 1135.0,595.40 1137.0,596.37 1139.0,597.34 1141.0,598.31 1143.0,599.28 1145.0,600.25 1147.0,601.22 1149.0,602.19 1151.0,603.16 1153.0,604.13 1155.0,605.09 1157.0,606.05 1159.0,607.01 1161.0,607.96 1163.0,608.91 1165.0,609.86 1167.0,610.80 1169.0,611.73 1171.0,612.66 1173.0,613.58 1175.0,614.49 1177.0,615.40 1179.0,616.30 1181.0,617.19 1183.0,618.07 1185.0,618.94 1187.0,619.80 1189.0,620.65 1191.0,621.50 1193.0,622.33 1195.0,623.14 1197.0,623.95 1199.0,624.75 1201.0,625.53 1203.0,626.30 1205.0,627.05 1207.0,627.79 1209.0,628.52 1211.0,629.24 1213.0,629.93 1215.0,630.62 1217.0,631.28 1219.0,631.93 1221.0,632.57 1223.0,633.19 1225.0,633.79 1227.0,634.37 1229.0,634.94 1231.0,635.49 1233.0,636.02 1235.0,636.54 1237.0,637.03 1239.0,637.51 1241.0,637.96 1243.0,638.40 1245.0,638.82 1247.0,639.21 1249.0,639.59 1251.0,639.95 1253.0,640.29 1255.0,640.61 1257.0,640.90 1259.0,641.18 1261.0,641.44 1263.0,641.67 1265.0,641.88 1267.0,642.07 1269.0,642.25 1271.0,642.39 1273.0,642.52 1275.0,642.63 1277.0,642.71 1279.0,642.78 1281.0,642.82 1283.0,642.84 1285.0,642.84 1287.0,642.81 1289.0,642.77 1291.0,642.70 1293.0,642.61 1295.0,642.50 1297.0,642.37 1299.0,642.22 1301.0,642.04 1303.0,641.85 1305.0,641.63 1307.0,641.39 1309.0,641.13 1311.0,640.85 1313.0,640.55 1315.0,640.23 1317.0,639.89 1319.0,639.53 1321.0,639.14" fill="none" stroke="#c41e2a" stroke-width="2"/>
<circle cx="1099.3" cy="576.1" r="3.6" fill="#000"/>
<circle cx="1148.6" cy="618.2" r="3.6" fill="#000"/>
<circle cx="1198.2" cy="608.1" r="3.6" fill="#000"/>
<circle cx="1247.6" cy="645.9" r="3.6" fill="#000"/>
<rect x="650.7" y="746.5" width="296.5999999999999" height="158.10000000000002" fill="none" stroke="#111" stroke-width="2"/>
<line x1="650.7" y1="750.3" x2="657.7" y2="750.3" stroke="#111" stroke-width="2"/>
<line x1="940.3" y1="750.3" x2="947.3" y2="750.3" stroke="#111" stroke-width="2"/>
<text x="640.9000000000001" y="756.8" font-size="25" text-anchor="end" font-family="Liberation Sans, sans-serif">400</text>
<line x1="650.7" y1="787.8" x2="657.7" y2="787.8" stroke="#111" stroke-width="2"/>
<line x1="940.3" y1="787.8" x2="947.3" y2="787.8" stroke="#111" stroke-width="2"/>
<text x="640.9000000000001" y="794.0" font-size="25" text-anchor="end" font-family="Liberation Sans, sans-serif">200</text>
<line x1="650.7" y1="825.2" x2="657.7" y2="825.2" stroke="#111" stroke-width="2"/>
<line x1="940.3" y1="825.2" x2="947.3" y2="825.2" stroke="#111" stroke-width="2"/>
<text x="640.9000000000001" y="831.3" font-size="25" text-anchor="end" font-family="Liberation Sans, sans-serif">0</text>
<line x1="650.7" y1="862.6" x2="657.7" y2="862.6" stroke="#111" stroke-width="2"/>
<line x1="940.3" y1="862.6" x2="947.3" y2="862.6" stroke="#111" stroke-width="2"/>
<text x="640.9000000000001" y="868.5" font-size="25" text-anchor="end" font-family="Liberation Sans, sans-serif">-200</text>
<line x1="650.7" y1="900.1" x2="657.7" y2="900.1" stroke="#111" stroke-width="2"/>
<line x1="940.3" y1="900.1" x2="947.3" y2="900.1" stroke="#111" stroke-width="2"/>
<text x="640.9000000000001" y="905.8" font-size="25" text-anchor="end" font-family="Liberation Sans, sans-serif">-400</text>
<line x1="658.9" y1="904.6" x2="658.9" y2="897.6" stroke="#111" stroke-width="2"/>
<text x="660.4" y="932" font-size="25" text-anchor="middle" font-family="Liberation Sans, sans-serif">50</text>
<line x1="741.1" y1="904.6" x2="741.1" y2="897.6" stroke="#111" stroke-width="2"/>
<text x="742.6" y="932" font-size="25" text-anchor="middle" font-family="Liberation Sans, sans-serif">100</text>
<line x1="823.4" y1="904.6" x2="823.4" y2="897.6" stroke="#111" stroke-width="2"/>
<text x="824.9" y="932" font-size="25" text-anchor="middle" font-family="Liberation Sans, sans-serif">150</text>
<line x1="905.6" y1="904.6" x2="905.6" y2="897.6" stroke="#111" stroke-width="2"/>
<text x="907.1" y="932" font-size="25" text-anchor="middle" font-family="Liberation Sans, sans-serif">200</text>
<polyline points="650.7,796.46 652.7,796.04 654.7,795.63 656.7,795.24 658.7,794.86 660.7,794.50 662.7,794.15 664.7,793.82 666.7,793.50 668.7,793.20 670.7,792.91 672.7,792.63 674.7,792.38 676.7,792.14 678.7,791.91 680.7,791.70 682.7,791.51 684.7,791.34 686.7,791.18 688.7,791.03 690.7,790.91 692.7,790.80 694.7,790.70 696.7,790.63 698.7,790.57 700.7,790.52 702.7,790.50 704.7,790.49 706.7,790.49 708.7,790.52 710.7,790.56 712.7,790.62 714.7,790.69 716.7,790.78 718.7,790.89 720.7,791.01 722.7,791.15 724.7,791.31 726.7,791.48 728.7,791.67 730.7,791.88 732.7,792.10 734.7,792.34 736.7,792.59 738.7,792.86 740.7,793.15 742.7,793.45 744.7,793.77 746.7,794.10 748.7,794.44 750.7,794.80 752.7,795.18 754.7,795.57 756.7,795.98 758.7,796.39 760.7,796.83 762.7,797.27 764.7,797.73 766.7,798.21 768.7,798.69 770.7,799.19 772.7,799.71 774.7,800.23 776.7,800.77 778.7,801.32 780.7,801.87 782.7,802.45 784.7,803.03 786.7,803.62 788.7,804.22 790.7,804.84 792.7,805.46 794.7,806.09 796.7,806.74 798.7,807.39 800.7,808.05 802.7,808.71 804.7,809.39 806.7,810.07 808.7,810.76 810.7,811.46 812.7,812.17 814.7,812.88 816.7,813.60 818.7,814.32 820.7,815.05 822.7,815.78 824.7,816.52 826.7,817.26 828.7,818.00 830.7,818.75 832.7,819.50 834.7,820.26 836.7,821.02 838.7,821.77 840.7,822.54 842.7,823.30 844.7,824.06 846.7,824.82 848.7,825.59 850.7,826.35 852.7,827.12 854.7,827.88 856.7,828.64 858.7,829.40 860.7,830.16 862.7,830.91 864.7,831.66 866.7,832.41 868.7,833.16 870.7,833.90 872.7,834.64 874.7,835.37 876.7,836.10 878.7,836.82 880.7,837.54 882.7,838.25 884.7,838.96 886.7,839.66 888.7,840.35 890.7,841.03 892.7,841.71 894.7,842.38 896.7,843.04 898.7,843.69 900.7,844.33 902.7,844.97 904.7,845.59 906.7,846.21 908.7,846.81 910.7,847.41 912.7,847.99 914.7,848.56 916.7,849.12 918.7,849.67 920.7,850.21 922.7,850.74 924.7,851.25 926.7,851.75 928.7,852.24 930.7,852.71 932.7,853.18 934.7,853.62 936.7,854.06 938.7,854.48 940.7,854.89 942.7,855.28 944.7,855.66 946.7,856.02" fill="none" stroke="#c41e2a" stroke-width="2"/>
<circle cx="724.7" cy="787.3" r="3.6" fill="#000"/>
<circle cx="774.1" cy="805.6" r="3.6" fill="#000"/>
<circle cx="823.9" cy="814.7" r="3.6" fill="#000"/>
<circle cx="873" cy="832.1" r="3.6" fill="#000"/>
<rect x="1025" y="746.5" width="297.29999999999995" height="158.10000000000002" fill="none" stroke="#111" stroke-width="2"/>
<line x1="1025" y1="750.3" x2="1032" y2="750.3" stroke="#111" stroke-width="2"/>
<line x1="1315.3" y1="750.3" x2="1322.3" y2="750.3" stroke="#111" stroke-width="2"/>
<text x="1015.2" y="756.8" font-size="25" text-anchor="end" font-family="Liberation Sans, sans-serif">400</text>
<line x1="1025" y1="787.8" x2="1032" y2="787.8" stroke="#111" stroke-width="2"/>
<line x1="1315.3" y1="787.8" x2="1322.3" y2="787.8" stroke="#111" stroke-width="2"/>
<text x="1015.2" y="794.0" font-size="25" text-anchor="end" font-family="Liberation Sans, sans-serif">200</text>
<line x1="1025" y1="825.2" x2="1032" y2="825.2" stroke="#111" stroke-width="2"/>
<line x1="1315.3" y1="825.2" x2="1322.3" y2="825.2" stroke="#111" stroke-width="2"/>
<text x="1015.2" y="831.3" font-size="25" text-anchor="end" font-family="Liberation Sans, sans-serif">0</text>
<line x1="1025" y1="862.6" x2="1032" y2="862.6" stroke="#111" stroke-width="2"/>
<line x1="1315.3" y1="862.6" x2="1322.3" y2="862.6" stroke="#111" stroke-width="2"/>
<text x="1015.2" y="868.5" font-size="25" text-anchor="end" font-family="Liberation Sans, sans-serif">-200</text>
<line x1="1025" y1="900.1" x2="1032" y2="900.1" stroke="#111" stroke-width="2"/>
<line x1="1315.3" y1="900.1" x2="1322.3" y2="900.1" stroke="#111" stroke-width="2"/>
<text x="1015.2" y="905.8" font-size="25" text-anchor="end" font-family="Liberation Sans, sans-serif">-400</text>
<line x1="1033.5" y1="904.6" x2="1033.5" y2="897.6" stroke="#111" stroke-width="2"/>
<text x="1035.0" y="932" font-size="25" text-anchor="middle" font-family="Liberation Sans, sans-serif">50</text>
<line x1="1115.8" y1="904.6" x2="1115.8" y2="897.6" stroke="#111" stroke-width="2"/>
<text x="1117.2" y="932" font-size="25" text-anchor="middle" font-family="Liberation Sans, sans-serif">100</text>
<line x1="1198.0" y1="904.6" x2="1198.0" y2="897.6" stroke="#111" stroke-width="2"/>
<text x="1199.5" y="932" font-size="25" text-anchor="middle" font-family="Liberation Sans, sans-serif">150</text>
<line x1="1280.2" y1="904.6" x2="1280.2" y2="897.6" stroke="#111" stroke-width="2"/>
<text x="1281.8" y="932" font-size="25" text-anchor="middle" font-family="Liberation Sans, sans-serif">200</text>
<polyline points="1025.0,895.90 1027.0,895.90 1029.0,895.88 1031.0,895.83 1033.0,895.75 1035.0,895.64 1037.0,895.49 1039.0,895.32 1041.0,895.12 1043.0,894.89 1045.0,894.63 1047.0,894.34 1049.0,894.01 1051.0,893.67 1053.0,893.29 1055.0,892.88 1057.0,892.44 1059.0,891.98 1061.0,891.48 1063.0,890.96 1065.0,890.41 1067.0,889.83 1069.0,889.23 1071.0,888.59 1073.0,887.93 1075.0,887.25 1077.0,886.54 1079.0,885.80 1081.0,885.03 1083.0,884.24 1085.0,883.43 1087.0,882.59 1089.0,881.72 1091.0,880.83 1093.0,879.92 1095.0,878.99 1097.0,878.03 1099.0,877.05 1101.0,876.05 1103.0,875.02 1105.0,873.98 1107.0,872.91 1109.0,871.82 1111.0,870.72 1113.0,869.59 1115.0,868.45 1117.0,867.28 1119.0,866.10 1121.0,864.90 1123.0,863.69 1125.0,862.46 1127.0,861.21 1129.0,859.95 1131.0,858.67 1133.0,857.38 1135.0,856.08 1137.0,854.76 1139.0,853.43 1141.0,852.09 1143.0,850.73 1145.0,849.37 1147.0,847.99 1149.0,846.61 1151.0,845.22 1153.0,843.81 1155.0,842.40 1157.0,840.99 1159.0,839.56 1161.0,838.13 1163.0,836.70 1165.0,835.26 1167.0,833.82 1169.0,832.37 1171.0,830.92 1173.0,829.47 1175.0,828.01 1177.0,826.56 1179.0,825.10 1181.0,823.65 1183.0,822.19 1185.0,820.74 1187.0,819.29 1189.0,817.84 1191.0,816.40 1193.0,814.95 1195.0,813.52 1197.0,812.09 1199.0,810.66 1201.0,809.24 1203.0,807.83 1205.0,806.43 1207.0,805.03 1209.0,803.64 1211.0,802.26 1213.0,800.89 1215.0,799.54 1217.0,798.19 1219.0,796.86 1221.0,795.53 1223.0,794.22 1225.0,792.93 1227.0,791.64 1229.0,790.38 1231.0,789.12 1233.0,787.89 1235.0,786.67 1237.0,785.46 1239.0,784.27 1241.0,783.10 1243.0,781.95 1245.0,780.82 1247.0,779.71 1249.0,778.61 1251.0,777.54 1253.0,776.49 1255.0,775.45 1257.0,774.44 1259.0,773.45 1261.0,772.49 1263.0,771.54 1265.0,770.62 1267.0,769.73 1269.0,768.85 1271.0,768.00 1273.0,767.18 1275.0,766.38 1277.0,765.61 1279.0,764.86 1281.0,764.13 1283.0,763.44 1285.0,762.77 1287.0,762.13 1289.0,761.51 1291.0,760.92 1293.0,760.36 1295.0,759.83 1297.0,759.33 1299.0,758.85 1301.0,758.40 1303.0,757.98 1305.0,757.59 1307.0,757.23 1309.0,756.90 1311.0,756.60 1313.0,756.33 1315.0,756.08 1317.0,755.87 1319.0,755.69 1321.0,755.53" fill="none" stroke="#c41e2a" stroke-width="2"/>
<circle cx="1099.2" cy="873.1" r="3.6" fill="#000"/>
<circle cx="1148.5" cy="856.7" r="3.6" fill="#000"/>
<circle cx="1198.1" cy="810.8" r="3.6" fill="#000"/>
<circle cx="1247.4" cy="777.9" r="3.6" fill="#000"/>
<text transform="translate(578.3,714.5) rotate(-90)" font-size="29.3" text-anchor="middle" font-family="Liberation Sans, sans-serif">LPFM real part (a.u.)</text>
<text x="983.4" y="965" font-size="29.5" text-anchor="middle" font-family="Liberation Sans, sans-serif">Sample rotation angle (deg.)</text>
<defs><clipPath id="mapclip"><rect x="58.2" y="521.9" width="408.1" height="394.8"/></clipPath></defs>
<g clip-path="url(#mapclip)" shape-rendering="crispEdges">
<rect x="58.20" y="521.90" width="12.78" height="12.78" fill="#eee32c"/>
<rect x="120.58" y="521.90" width="12.78" height="12.78" fill="#eee32c"/>
<rect x="133.05" y="521.90" width="12.78" height="12.78" fill="#f5a123"/>
<rect x="158.00" y="521.90" width="25.25" height="12.78" fill="#f5a123"/>
<rect x="207.90" y="521.90" width="12.78" height="12.78" fill="#f0801f"/>
<rect x="220.38" y="521.90" width="12.78" height="12.78" fill="#a6d046"/>
<rect x="232.85" y="521.90" width="12.78" height="12.78" fill="#c6dc3e"/>
<rect x="257.80" y="521.90" width="12.78" height="12.78" fill="#eee32c"/>
<rect x="307.70" y="521.90" width="12.78" height="12.78" fill="#f0801f"/>
<rect x="444.92" y="521.90" width="12.78" height="12.78" fill="#45ade0"/>
<rect x="108.10" y="534.38" width="25.25" height="12.78" fill="#eee32c"/>
<rect x="133.05" y="534.38" width="12.78" height="12.78" fill="#f5a123"/>
<rect x="145.53" y="534.38" width="12.78" height="12.78" fill="#eee32c"/>
<rect x="158.00" y="534.38" width="25.25" height="12.78" fill="#f5a123"/>
<rect x="182.95" y="534.38" width="37.72" height="12.78" fill="#c6dc3e"/>
<rect x="245.32" y="534.38" width="12.78" height="12.78" fill="#c6dc3e"/>
<rect x="257.80" y="534.38" width="12.78" height="12.78" fill="#eee32c"/>
<rect x="295.23" y="534.38" width="12.78" height="12.78" fill="#f0801f"/>
<rect x="432.45" y="534.38" width="25.25" height="12.78" fill="#45ade0"/>
<rect x="108.10" y="546.85" width="12.78" height="12.78" fill="#eee32c"/>
<rect x="120.58" y="546.85" width="12.78" height="12.78" fill="#f5c422"/>
<rect x="133.05" y="546.85" width="12.78" height="12.78" fill="#f5a123"/>
<rect x="145.53" y="546.85" width="12.78" height="12.78" fill="#eee32c"/>
<rect x="158.00" y="546.85" width="12.78" height="12.78" fill="#f5a123"/>
<rect x="170.47" y="546.85" width="12.78" height="12.78" fill="#f5c422"/>
<rect x="182.95" y="546.85" width="12.78" height="12.78" fill="#eee32c"/>
<rect x="195.43" y="546.85" width="25.25" height="12.78" fill="#c6dc3e"/>
<rect x="245.32" y="546.85" width="25.25" height="12.78" fill="#c6dc3e"/>
<rect x="270.27" y="546.85" width="12.78" height="12.78" fill="#eee32c"/>
<rect x="282.75" y="546.85" width="62.67" height="12.78" fill="#f0801f"/>
<rect x="108.10" y="559.32" width="50.20" height="12.78" fill="#f5a123"/>
<rect x="158.00" y="559.32" width="25.25" height="12.78" fill="#f5c422"/>
<rect x="182.95" y="559.32" width="12.78" height="12.78" fill="#eee32c"/>
<rect x="195.43" y="559.32" width="12.78" height="12.78" fill="#c6dc3e"/>
<rect x="220.38" y="559.32" width="12.78" height="12.78" fill="#c6dc3e"/>
<rect x="232.85" y="559.32" width="12.78" height="12.78" fill="#a6d046"/>
<rect x="245.32" y="559.32" width="50.20" height="12.78" fill="#c6dc3e"/>
<rect x="320.17" y="559.32" width="12.78" height="12.78" fill="#f5a123"/>
<rect x="345.12" y="559.32" width="12.78" height="12.78" fill="#f5a123"/>
<rect x="95.62" y="571.80" width="25.25" height="12.78" fill="#f0801f"/>
<rect x="120.58" y="571.80" width="50.20" height="12.78" fill="#f5a123"/>
<rect x="170.47" y="571.80" width="12.78" height="12.78" fill="#f5c422"/>
<rect x="182.95" y="571.80" width="12.78" height="12.78" fill="#eee32c"/>
<rect x="195.43" y="571.80" width="12.78" height="12.78" fill="#c6dc3e"/>
<rect x="220.38" y="571.80" width="25.25" height="12.78" fill="#a6d046"/>
<rect x="245.32" y="571.80" width="12.78" height="12.78" fill="#c6dc3e"/>
<rect x="257.80" y="571.80" width="25.25" height="12.78" fill="#a6d046"/>
<rect x="282.75" y="571.80" width="12.78" height="12.78" fill="#c6dc3e"/>
<rect x="320.17" y="571.80" width="12.78" height="12.78" fill="#f5a123"/>
<rect x="345.12" y="571.80" width="12.78" height="12.78" fill="#f5a123"/>
<rect x="95.62" y="584.27" width="25.25" height="12.78" fill="#f0801f"/>
<rect x="120.58" y="584.27" width="50.20" height="12.78" fill="#f5a123"/>
<rect x="170.47" y="584.27" width="12.78" height="12.78" fill="#f5c422"/>
<rect x="182.95" y="584.27" width="12.78" height="12.78" fill="#eee32c"/>
<rect x="195.43" y="584.27" width="37.72" height="12.78" fill="#c6dc3e"/>
<rect x="232.85" y="584.27" width="12.78" height="12.78" fill="#a6d046"/>
<rect x="245.32" y="584.27" width="12.78" height="12.78" fill="#c6dc3e"/>
<rect x="257.80" y="584.27" width="37.72" height="12.78" fill="#a6d046"/>
<rect x="320.17" y="584.27" width="12.78" height="12.78" fill="#f5a123"/>
<rect x="83.15" y="596.75" width="12.78" height="12.78" fill="#f5a123"/>
<rect x="95.62" y="596.75" width="12.78" height="12.78" fill="#f0801f"/>
<rect x="120.58" y="596.75" width="12.78" height="12.78" fill="#f5a123"/>
<rect x="133.05" y="596.75" width="25.25" height="12.78" fill="#f0801f"/>
<rect x="158.00" y="596.75" width="12.78" height="12.78" fill="#f5a123"/>
<rect x="170.47" y="596.75" width="12.78" height="12.78" fill="#f5c422"/>
<rect x="182.95" y="596.75" width="25.25" height="12.78" fill="#eee32c"/>
<rect x="207.90" y="596.75" width="25.25" height="12.78" fill="#c6dc3e"/>
<rect x="232.85" y="596.75" width="12.78" height="12.78" fill="#a6d046"/>
<rect x="245.32" y="596.75" width="87.62" height="12.78" fill="#c6dc3e"/>
<rect x="83.15" y="609.23" width="12.78" height="12.78" fill="#f5a123"/>
<rect x="95.62" y="609.23" width="12.78" height="12.78" fill="#f0801f"/>
<rect x="120.58" y="609.23" width="37.72" height="12.78" fill="#f0801f"/>
<rect x="158.00" y="609.23" width="25.25" height="12.78" fill="#f5a123"/>
<rect x="182.95" y="609.23" width="25.25" height="12.78" fill="#eee32c"/>
<rect x="207.90" y="609.23" width="125.05" height="12.78" fill="#c6dc3e"/>
<rect x="444.92" y="609.23" width="25.25" height="12.78" fill="#c6dc3e"/>
<rect x="95.62" y="621.70" width="25.25" height="12.78" fill="#f0801f"/>
<rect x="120.58" y="621.70" width="50.20" height="12.78" fill="#f5a123"/>
<rect x="170.47" y="621.70" width="25.25" height="12.78" fill="#f5c422"/>
<rect x="195.43" y="621.70" width="125.05" height="12.78" fill="#eee32c"/>
<rect x="320.17" y="621.70" width="12.78" height="12.78" fill="#c6dc3e"/>
<rect x="370.07" y="621.70" width="12.78" height="12.78" fill="#5db65e"/>
<rect x="457.40" y="621.70" width="12.78" height="12.78" fill="#eee32c"/>
<rect x="58.20" y="634.17" width="12.78" height="12.78" fill="#f0801f"/>
<rect x="83.15" y="634.17" width="12.78" height="12.78" fill="#f5a123"/>
<rect x="95.62" y="634.17" width="12.78" height="12.78" fill="#f0801f"/>
<rect x="108.10" y="634.17" width="62.67" height="12.78" fill="#f5a123"/>
<rect x="170.47" y="634.17" width="87.62" height="12.78" fill="#f5c422"/>
<rect x="257.80" y="634.17" width="62.67" height="12.78" fill="#eee32c"/>
<rect x="320.17" y="634.17" width="37.72" height="12.78" fill="#f5c422"/>
<rect x="370.07" y="634.17" width="37.72" height="12.78" fill="#5db65e"/>
<rect x="407.50" y="634.17" width="12.78" height="12.78" fill="#f0801f"/>
<rect x="108.10" y="646.65" width="12.78" height="12.78" fill="#f5c422"/>
<rect x="120.58" y="646.65" width="25.25" height="12.78" fill="#f5a123"/>
<rect x="170.47" y="646.65" width="87.62" height="12.78" fill="#f5a123"/>
<rect x="257.80" y="646.65" width="12.78" height="12.78" fill="#f5c422"/>
<rect x="270.27" y="646.65" width="12.78" height="12.78" fill="#eee32c"/>
<rect x="282.75" y="646.65" width="12.78" height="12.78" fill="#70bb3e"/>
<rect x="295.23" y="646.65" width="12.78" height="12.78" fill="#f5c422"/>
<rect x="307.70" y="646.65" width="12.78" height="12.78" fill="#eee32c"/>
<rect x="320.17" y="646.65" width="50.20" height="12.78" fill="#70bb3e"/>
<rect x="370.07" y="646.65" width="50.20" height="12.78" fill="#5db65e"/>
<rect x="444.92" y="646.65" width="12.78" height="12.78" fill="#f0801f"/>
<rect x="83.15" y="659.12" width="12.78" height="12.78" fill="#f0801f"/>
<rect x="120.58" y="659.12" width="37.72" height="12.78" fill="#f5a123"/>
<rect x="158.00" y="659.12" width="12.78" height="12.78" fill="#f0801f"/>
<rect x="170.47" y="659.12" width="87.62" height="12.78" fill="#f5a123"/>
<rect x="257.80" y="659.12" width="12.78" height="12.78" fill="#f0801f"/>
<rect x="270.27" y="659.12" width="25.25" height="12.78" fill="#f5a123"/>
<rect x="295.23" y="659.12" width="25.25" height="12.78" fill="#f5c422"/>
<rect x="320.17" y="659.12" width="112.57" height="12.78" fill="#70bb3e"/>
<rect x="432.45" y="659.12" width="12.78" height="12.78" fill="#f5c422"/>
<rect x="95.62" y="671.60" width="25.25" height="12.78" fill="#f0801f"/>
<rect x="120.58" y="671.60" width="37.72" height="12.78" fill="#f5a123"/>
<rect x="158.00" y="671.60" width="25.25" height="12.78" fill="#f0801f"/>
<rect x="182.95" y="671.60" width="25.25" height="12.78" fill="#f5a123"/>
<rect x="207.90" y="671.60" width="62.67" height="12.78" fill="#f0801f"/>
<rect x="270.27" y="671.60" width="12.78" height="12.78" fill="#f5a123"/>
<rect x="282.75" y="671.60" width="25.25" height="12.78" fill="#f5c422"/>
<rect x="307.70" y="671.60" width="12.78" height="12.78" fill="#eee32c"/>
<rect x="320.17" y="671.60" width="112.57" height="12.78" fill="#70bb3e"/>
<rect x="120.58" y="684.07" width="12.78" height="12.78" fill="#f5c422"/>
<rect x="133.05" y="684.07" width="25.25" height="12.78" fill="#f5a123"/>
<rect x="170.47" y="684.07" width="100.10" height="12.78" fill="#f0801f"/>
<rect x="270.27" y="684.07" width="12.78" height="12.78" fill="#f5a123"/>
<rect x="282.75" y="684.07" width="25.25" height="12.78" fill="#f5c422"/>
<rect x="307.70" y="684.07" width="12.78" height="12.78" fill="#c6dc3e"/>
<rect x="320.17" y="684.07" width="50.20" height="12.78" fill="#70bb3e"/>
<rect x="382.55" y="684.07" width="25.25" height="12.78" fill="#70bb3e"/>
<rect x="419.97" y="684.07" width="12.78" height="12.78" fill="#70bb3e"/>
<rect x="457.40" y="684.07" width="12.78" height="12.78" fill="#c6dc3e"/>
<rect x="133.05" y="696.55" width="137.53" height="12.78" fill="#f0801f"/>
<rect x="270.27" y="696.55" width="37.72" height="12.78" fill="#f5c422"/>
<rect x="307.70" y="696.55" width="12.78" height="12.78" fill="#c6dc3e"/>
<rect x="320.17" y="696.55" width="50.20" height="12.78" fill="#70bb3e"/>
<rect x="395.02" y="696.55" width="37.72" height="12.78" fill="#70bb3e"/>
<rect x="444.92" y="696.55" width="25.25" height="12.78" fill="#f5c422"/>
<rect x="120.58" y="709.02" width="12.78" height="12.78" fill="#ea5521"/>
<rect x="133.05" y="709.02" width="87.62" height="12.78" fill="#f0801f"/>
<rect x="220.38" y="709.02" width="12.78" height="12.78" fill="#ea5521"/>
<rect x="232.85" y="709.02" width="37.72" height="12.78" fill="#f0801f"/>
<rect x="320.17" y="709.02" width="50.20" height="12.78" fill="#70bb3e"/>
<rect x="395.02" y="709.02" width="37.72" height="12.78" fill="#5db65e"/>
<rect x="444.92" y="709.02" width="25.25" height="12.78" fill="#f5c422"/>
<rect x="83.15" y="721.50" width="12.78" height="12.78" fill="#ea5521"/>
<rect x="133.05" y="721.50" width="12.78" height="12.78" fill="#ea5521"/>
<rect x="145.53" y="721.50" width="25.25" height="12.78" fill="#f0801f"/>
<rect x="170.47" y="721.50" width="25.25" height="12.78" fill="#f5a123"/>
<rect x="195.43" y="721.50" width="12.78" height="12.78" fill="#f0801f"/>
<rect x="207.90" y="721.50" width="12.78" height="12.78" fill="#ea5521"/>
<rect x="220.38" y="721.50" width="25.25" height="12.78" fill="#f0801f"/>
<rect x="245.32" y="721.50" width="12.78" height="12.78" fill="#ea5521"/>
<rect x="257.80" y="721.50" width="12.78" height="12.78" fill="#f0801f"/>
<rect x="295.23" y="721.50" width="12.78" height="12.78" fill="#f5c422"/>
<rect x="320.17" y="721.50" width="112.57" height="12.78" fill="#70bb3e"/>
<rect x="133.05" y="733.97" width="125.05" height="12.78" fill="#ea5521"/>
<rect x="257.80" y="733.97" width="12.78" height="12.78" fill="#f0801f"/>
<rect x="307.70" y="733.97" width="25.25" height="12.78" fill="#70bb3e"/>
<rect x="332.65" y="733.97" width="12.78" height="12.78" fill="#62bca4"/>
<rect x="345.12" y="733.97" width="75.15" height="12.78" fill="#70bb3e"/>
<rect x="95.62" y="746.45" width="25.25" height="12.78" fill="#e3321e"/>
<rect x="145.53" y="746.45" width="25.25" height="12.78" fill="#e3321e"/>
<rect x="170.47" y="746.45" width="37.72" height="12.78" fill="#ea5521"/>
<rect x="207.90" y="746.45" width="25.25" height="12.78" fill="#f0801f"/>
<rect x="232.85" y="746.45" width="25.25" height="12.78" fill="#2759bd"/>
<rect x="320.17" y="746.45" width="25.25" height="12.78" fill="#62bca4"/>
<rect x="345.12" y="746.45" width="12.78" height="12.78" fill="#70bb3e"/>
<rect x="357.60" y="746.45" width="25.25" height="12.78" fill="#62bca4"/>
<rect x="382.55" y="746.45" width="37.72" height="12.78" fill="#70bb3e"/>
<rect x="419.97" y="746.45" width="12.78" height="12.78" fill="#62bca4"/>
<rect x="432.45" y="746.45" width="12.78" height="12.78" fill="#ea5521"/>
<rect x="444.92" y="746.45" width="25.25" height="12.78" fill="#45ade0"/>
<rect x="120.58" y="758.92" width="75.15" height="12.78" fill="#e3321e"/>
<rect x="195.43" y="758.92" width="25.25" height="12.78" fill="#2759bd"/>
<rect x="220.38" y="758.92" width="12.78" height="12.78" fill="#f0801f"/>
<rect x="232.85" y="758.92" width="12.78" height="12.78" fill="#2759bd"/>
<rect x="245.32" y="758.92" width="12.78" height="12.78" fill="#3380d2"/>
<rect x="270.27" y="758.92" width="37.72" height="12.78" fill="#45ade0"/>
<rect x="307.70" y="758.92" width="75.15" height="12.78" fill="#62bca4"/>
<rect x="382.55" y="758.92" width="37.72" height="12.78" fill="#70bb3e"/>
<rect x="444.92" y="758.92" width="12.78" height="12.78" fill="#45ade0"/>
<rect x="70.67" y="771.40" width="25.25" height="12.78" fill="#2759bd"/>
<rect x="95.62" y="771.40" width="12.78" height="12.78" fill="#45ade0"/>
<rect x="120.58" y="771.40" width="62.67" height="12.78" fill="#e3321e"/>
<rect x="182.95" y="771.40" width="62.67" height="12.78" fill="#2759bd"/>
<rect x="245.32" y="771.40" width="25.25" height="12.78" fill="#3380d2"/>
<rect x="270.27" y="771.40" width="37.72" height="12.78" fill="#45ade0"/>
<rect x="307.70" y="771.40" width="75.15" height="12.78" fill="#62bca4"/>
<rect x="382.55" y="771.40" width="12.78" height="12.78" fill="#70bb3e"/>
<rect x="395.02" y="771.40" width="37.72" height="12.78" fill="#62bca4"/>
<rect x="432.45" y="771.40" width="25.25" height="12.78" fill="#45ade0"/>
<rect x="70.67" y="783.88" width="25.25" height="12.78" fill="#2759bd"/>
<rect x="145.53" y="783.88" width="25.25" height="12.78" fill="#e3321e"/>
<rect x="170.47" y="783.88" width="75.15" height="12.78" fill="#2759bd"/>
<rect x="245.32" y="783.88" width="25.25" height="12.78" fill="#3380d2"/>
<rect x="270.27" y="783.88" width="37.72" height="12.78" fill="#45ade0"/>
<rect x="307.70" y="783.88" width="75.15" height="12.78" fill="#62bca4"/>
<rect x="382.55" y="783.88" width="25.25" height="12.78" fill="#70bb3e"/>
<rect x="407.50" y="783.88" width="25.25" height="12.78" fill="#62bca4"/>
<rect x="133.05" y="796.35" width="25.25" height="12.78" fill="#e3321e"/>
<rect x="158.00" y="796.35" width="87.62" height="12.78" fill="#2759bd"/>
<rect x="245.32" y="796.35" width="25.25" height="12.78" fill="#3380d2"/>
<rect x="270.27" y="796.35" width="37.72" height="12.78" fill="#45ade0"/>
<rect x="307.70" y="796.35" width="75.15" height="12.78" fill="#62bca4"/>
<rect x="382.55" y="796.35" width="25.25" height="12.78" fill="#70bb3e"/>
<rect x="108.10" y="808.83" width="25.25" height="12.78" fill="#2759bd"/>
<rect x="133.05" y="808.83" width="25.25" height="12.78" fill="#e3321e"/>
<rect x="158.00" y="808.83" width="87.62" height="12.78" fill="#2759bd"/>
<rect x="245.32" y="808.83" width="12.78" height="12.78" fill="#45ade0"/>
<rect x="257.80" y="808.83" width="12.78" height="12.78" fill="#3380d2"/>
<rect x="270.27" y="808.83" width="37.72" height="12.78" fill="#45ade0"/>
<rect x="307.70" y="808.83" width="75.15" height="12.78" fill="#62bca4"/>
<rect x="382.55" y="808.83" width="25.25" height="12.78" fill="#70bb3e"/>
<rect x="108.10" y="821.30" width="12.78" height="12.78" fill="#2759bd"/>
<rect x="170.47" y="821.30" width="75.15" height="12.78" fill="#2759bd"/>
<rect x="245.32" y="821.30" width="25.25" height="12.78" fill="#3380d2"/>
<rect x="270.27" y="821.30" width="50.20" height="12.78" fill="#45ade0"/>
<rect x="320.17" y="821.30" width="112.57" height="12.78" fill="#62bca4"/>
<rect x="432.45" y="821.30" width="12.78" height="12.78" fill="#e3321e"/>
<rect x="133.05" y="833.77" width="25.25" height="12.78" fill="#e3321e"/>
<rect x="158.00" y="833.77" width="87.62" height="12.78" fill="#2759bd"/>
<rect x="245.32" y="833.77" width="25.25" height="12.78" fill="#3380d2"/>
<rect x="270.27" y="833.77" width="62.67" height="12.78" fill="#45ade0"/>
<rect x="332.65" y="833.77" width="37.72" height="12.78" fill="#62bca4"/>
<rect x="95.62" y="846.25" width="12.78" height="12.78" fill="#f0801f"/>
<rect x="108.10" y="846.25" width="37.72" height="12.78" fill="#e3321e"/>
<rect x="158.00" y="846.25" width="12.78" height="12.78" fill="#f0801f"/>
<rect x="170.47" y="846.25" width="75.15" height="12.78" fill="#2759bd"/>
<rect x="245.32" y="846.25" width="25.25" height="12.78" fill="#3380d2"/>
<rect x="270.27" y="846.25" width="37.72" height="12.78" fill="#45ade0"/>
<rect x="332.65" y="846.25" width="12.78" height="12.78" fill="#62bca4"/>
<rect x="357.60" y="846.25" width="25.25" height="12.78" fill="#70bb3e"/>
<rect x="108.10" y="858.72" width="37.72" height="12.78" fill="#e3321e"/>
<rect x="158.00" y="858.72" width="12.78" height="12.78" fill="#f0801f"/>
<rect x="170.47" y="858.72" width="75.15" height="12.78" fill="#2759bd"/>
<rect x="245.32" y="858.72" width="12.78" height="12.78" fill="#45ade0"/>
<rect x="257.80" y="858.72" width="12.78" height="12.78" fill="#3380d2"/>
<rect x="270.27" y="858.72" width="25.25" height="12.78" fill="#45ade0"/>
<rect x="108.10" y="871.20" width="87.62" height="12.78" fill="#e3321e"/>
<rect x="195.43" y="871.20" width="37.72" height="12.78" fill="#2759bd"/>
<rect x="232.85" y="871.20" width="12.78" height="12.78" fill="#45ade0"/>
<rect x="245.32" y="871.20" width="12.78" height="12.78" fill="#f0801f"/>
<rect x="432.45" y="871.20" width="25.25" height="12.78" fill="#eee32c"/>
<rect x="58.20" y="883.67" width="50.20" height="12.78" fill="#f0801f"/>
<rect x="120.58" y="883.67" width="25.25" height="12.78" fill="#e3321e"/>
<rect x="145.53" y="883.67" width="25.25" height="12.78" fill="#2759bd"/>
<rect x="170.47" y="883.67" width="25.25" height="12.78" fill="#e3321e"/>
<rect x="195.43" y="883.67" width="12.78" height="12.78" fill="#2759bd"/>
<rect x="232.85" y="883.67" width="25.25" height="12.78" fill="#f0801f"/>
<rect x="295.23" y="883.67" width="25.25" height="12.78" fill="#ea5521"/>
<rect x="407.50" y="883.67" width="50.20" height="12.78" fill="#eee32c"/>
<rect x="58.20" y="896.15" width="25.25" height="12.78" fill="#f0801f"/>
<rect x="120.58" y="896.15" width="62.67" height="12.78" fill="#e3321e"/>
<rect x="182.95" y="896.15" width="50.20" height="12.78" fill="#ea5521"/>
<rect x="232.85" y="896.15" width="12.78" height="12.78" fill="#f0801f"/>
<rect x="345.12" y="896.15" width="12.78" height="12.78" fill="#f5a123"/>
<rect x="370.07" y="896.15" width="12.78" height="12.78" fill="#eee32c"/>
<rect x="382.55" y="896.15" width="12.78" height="12.78" fill="#f5c422"/>
<rect x="395.02" y="896.15" width="62.67" height="12.78" fill="#eee32c"/>
<rect x="58.20" y="908.62" width="25.25" height="12.78" fill="#f0801f"/>
<rect x="133.05" y="908.62" width="50.20" height="12.78" fill="#e3321e"/>
<rect x="182.95" y="908.62" width="25.25" height="12.78" fill="#ea5521"/>
<rect x="332.65" y="908.62" width="25.25" height="12.78" fill="#f5a123"/>
<rect x="382.55" y="908.62" width="12.78" height="12.78" fill="#f5c422"/>
<rect x="395.02" y="908.62" width="25.25" height="12.78" fill="#eee32c"/>
<rect x="419.97" y="908.62" width="12.78" height="12.78" fill="#f5a123"/>
<rect x="58.2" y="556" width="5.5" height="19.5" fill="#8cc43c"/>
</g>
<g clip-path="url(#mapclip)" fill="#241c1c">
<path transform="translate(70.7,521.1) rotate(100)" d="M6.5,0 L-6,-3.2 L-5,0 L-6,3.2 Z"/>
<path transform="translate(95.7,521.1) rotate(90)" d="M6.5,0 L-6,-3.2 L-5,0 L-6,3.2 Z"/>
<path transform="translate(120.6,521.1) rotate(90)" d="M6.5,0 L-6,-3.2 L-5,0 L-6,3.2 Z"/>
<path transform="translate(145.6,521.1) rotate(60)" d="M6.5,0 L-6,-3.2 L-5,0 L-6,3.2 Z"/>
<path transform="translate(170.5,521.1) rotate(55)" d="M13.0,0 L2.0,-3 L3.0,-1.1 L-13.0,-1.1 L-13.0,1.1 L3.0,1.1 L2.0,3 Z"/>
<path transform="translate(195.4,521.1) rotate(60)" d="M6.5,0 L-6,-3.2 L-5,0 L-6,3.2 Z"/>
<path transform="translate(220.4,521.1) rotate(60)" d="M13.0,0 L2.0,-3 L3.0,-1.1 L-13.0,-1.1 L-13.0,1.1 L3.0,1.1 L2.0,3 Z"/>
<path transform="translate(245.4,521.1) rotate(90)" d="M6.5,0 L-6,-3.2 L-5,0 L-6,3.2 Z"/>
<path transform="translate(270.3,521.1) rotate(60)" d="M6.5,0 L-6,-3.2 L-5,0 L-6,3.2 Z"/>
<path transform="translate(295.2,521.1) rotate(90)" d="M6.5,0 L-6,-3.2 L-5,0 L-6,3.2 Z"/>
<path transform="translate(320.2,521.1) rotate(90)" d="M6.5,0 L-6,-3.2 L-5,0 L-6,3.2 Z"/>
<path transform="translate(345.1,521.1) rotate(90)" d="M6.5,0 L-6,-3.2 L-5,0 L-6,3.2 Z"/>
<path transform="translate(370.1,521.1) rotate(90)" d="M6.5,0 L-6,-3.2 L-5,0 L-6,3.2 Z"/>
<path transform="translate(395.0,521.1) rotate(90)" d="M6.5,0 L-6,-3.2 L-5,0 L-6,3.2 Z"/>
<path transform="translate(420.0,521.1) rotate(90)" d="M6.5,0 L-6,-3.2 L-5,0 L-6,3.2 Z"/>
<path transform="translate(444.9,521.1) rotate(90)" d="M6.5,0 L-6,-3.2 L-5,0 L-6,3.2 Z"/>
<path transform="translate(70.7,546.1) rotate(90)" d="M6.5,0 L-6,-3.2 L-5,0 L-6,3.2 Z"/>
<path transform="translate(95.7,546.1) rotate(90)" d="M6.5,0 L-6,-3.2 L-5,0 L-6,3.2 Z"/>
<path transform="translate(120.6,546.1) rotate(80)" d="M11.0,0 L0.0,-3 L1.0,-1.1 L-11.0,-1.1 L-11.0,1.1 L1.0,1.1 L0.0,3 Z"/>
<path transform="translate(145.6,546.1) rotate(70)" d="M13.0,0 L2.0,-3 L3.0,-1.1 L-13.0,-1.1 L-13.0,1.1 L3.0,1.1 L2.0,3 Z"/>
<path transform="translate(170.5,546.1) rotate(70)" d="M13.0,0 L2.0,-3 L3.0,-1.1 L-13.0,-1.1 L-13.0,1.1 L3.0,1.1 L2.0,3 Z"/>
<path transform="translate(195.4,546.1) rotate(90)" d="M11.0,0 L0.0,-3 L1.0,-1.1 L-11.0,-1.1 L-11.0,1.1 L1.0,1.1 L0.0,3 Z"/>
<path transform="translate(220.4,546.1) rotate(90)" d="M11.0,0 L0.0,-3 L1.0,-1.1 L-11.0,-1.1 L-11.0,1.1 L1.0,1.1 L0.0,3 Z"/>
<path transform="translate(245.4,546.1) rotate(120)" d="M11.0,0 L0.0,-3 L1.0,-1.1 L-11.0,-1.1 L-11.0,1.1 L1.0,1.1 L0.0,3 Z"/>
<path transform="translate(270.3,546.1) rotate(90)" d="M11.0,0 L0.0,-3 L1.0,-1.1 L-11.0,-1.1 L-11.0,1.1 L1.0,1.1 L0.0,3 Z"/>
<path transform="translate(295.2,546.1) rotate(60)" d="M13.0,0 L2.0,-3 L3.0,-1.1 L-13.0,-1.1 L-13.0,1.1 L3.0,1.1 L2.0,3 Z"/>
<path transform="translate(320.2,546.1) rotate(30)" d="M13.0,0 L2.0,-3 L3.0,-1.1 L-13.0,-1.1 L-13.0,1.1 L3.0,1.1 L2.0,3 Z"/>
<path transform="translate(345.1,546.1) rotate(45)" d="M6.5,0 L-6,-3.2 L-5,0 L-6,3.2 Z"/>
<path transform="translate(370.1,546.1) rotate(0)" d="M6.5,0 L-6,-3.2 L-5,0 L-6,3.2 Z"/>
<path transform="translate(395.0,546.1) rotate(55)" d="M6.5,0 L-6,-3.2 L-5,0 L-6,3.2 Z"/>
<path transform="translate(420.0,546.1) rotate(70)" d="M6.5,0 L-6,-3.2 L-5,0 L-6,3.2 Z"/>
<path transform="translate(444.9,546.1) rotate(180)" d="M10.0,0 L-1.0,-3 L0.0,-1.1 L-10.0,-1.1 L-10.0,1.1 L0.0,1.1 L-1.0,3 Z"/>
<path transform="translate(70.7,571.0) rotate(120)" d="M6.5,0 L-6,-3.2 L-5,0 L-6,3.2 Z"/>
<path transform="translate(95.7,571.0) rotate(180)" d="M6.5,0 L-6,-3.2 L-5,0 L-6,3.2 Z"/>
<path transform="translate(120.6,571.0) rotate(55)" d="M13.0,0 L2.0,-3 L3.0,-1.1 L-13.0,-1.1 L-13.0,1.1 L3.0,1.1 L2.0,3 Z"/>
<path transform="translate(145.6,571.0) rotate(50)" d="M13.0,0 L2.0,-3 L3.0,-1.1 L-13.0,-1.1 L-13.0,1.1 L3.0,1.1 L2.0,3 Z"/>
<path transform="translate(170.5,571.0) rotate(55)" d="M11.0,0 L0.0,-3 L1.0,-1.1 L-11.0,-1.1 L-11.0,1.1 L1.0,1.1 L0.0,3 Z"/>
<path transform="translate(195.4,571.0) rotate(90)" d="M11.0,0 L0.0,-3 L1.0,-1.1 L-11.0,-1.1 L-11.0,1.1 L1.0,1.1 L0.0,3 Z"/>
<path transform="translate(220.4,571.0) rotate(110)" d="M11.0,0 L0.0,-3 L1.0,-1.1 L-11.0,-1.1 L-11.0,1.1 L1.0,1.1 L0.0,3 Z"/>
<path transform="translate(245.4,571.0) rotate(90)" d="M10.5,0 L-0.5,-3 L0.5,-1.1 L-10.5,-1.1 L-10.5,1.1 L0.5,1.1 L-0.5,3 Z"/>
<path transform="translate(270.3,571.0) rotate(90)" d="M11.0,0 L0.0,-3 L1.0,-1.1 L-11.0,-1.1 L-11.0,1.1 L1.0,1.1 L0.0,3 Z"/>
<path transform="translate(295.2,571.0) rotate(90)" d="M11.0,0 L0.0,-3 L1.0,-1.1 L-11.0,-1.1 L-11.0,1.1 L1.0,1.1 L0.0,3 Z"/>
<path transform="translate(320.2,571.0) rotate(70)" d="M13.0,0 L2.0,-3 L3.0,-1.1 L-13.0,-1.1 L-13.0,1.1 L3.0,1.1 L2.0,3 Z"/>
<path transform="translate(345.1,571.0) rotate(45)" d="M13.0,0 L2.0,-3 L3.0,-1.1 L-13.0,-1.1 L-13.0,1.1 L3.0,1.1 L2.0,3 Z"/>
<path transform="translate(370.1,571.0) rotate(40)" d="M6.5,0 L-6,-3.2 L-5,0 L-6,3.2 Z"/>
<path transform="translate(395.0,571.0) rotate(65)" d="M6.5,0 L-6,-3.2 L-5,0 L-6,3.2 Z"/>
<path transform="translate(420.0,571.0) rotate(45)" d="M6.5,0 L-6,-3.2 L-5,0 L-6,3.2 Z"/>
<path transform="translate(444.9,571.0) rotate(180)" d="M6.5,0 L-6,-3.2 L-5,0 L-6,3.2 Z"/>
<path transform="translate(70.7,596.0) rotate(110)" d="M6.5,0 L-6,-3.2 L-5,0 L-6,3.2 Z"/>
<path transform="translate(95.7,596.0) rotate(70)" d="M13.0,0 L2.0,-3 L3.0,-1.1 L-13.0,-1.1 L-13.0,1.1 L3.0,1.1 L2.0,3 Z"/>
<path transform="translate(120.6,596.0) rotate(50)" d="M13.0,0 L2.0,-3 L3.0,-1.1 L-13.0,-1.1 L-13.0,1.1 L3.0,1.1 L2.0,3 Z"/>
<path transform="translate(145.6,596.0) rotate(50)" d="M13.0,0 L2.0,-3 L3.0,-1.1 L-13.0,-1.1 L-13.0,1.1 L3.0,1.1 L2.0,3 Z"/>
<path transform="translate(170.5,596.0) rotate(45)" d="M13.0,0 L2.0,-3 L3.0,-1.1 L-13.0,-1.1 L-13.0,1.1 L3.0,1.1 L2.0,3 Z"/>
<path transform="translate(195.4,596.0) rotate(90)" d="M11.0,0 L0.0,-3 L1.0,-1.1 L-11.0,-1.1 L-11.0,1.1 L1.0,1.1 L0.0,3 Z"/>
<path transform="translate(220.4,596.0) rotate(90)" d="M11.0,0 L0.0,-3 L1.0,-1.1 L-11.0,-1.1 L-11.0,1.1 L1.0,1.1 L0.0,3 Z"/>
<path transform="translate(245.4,596.0) rotate(105)" d="M10.5,0 L-0.5,-3 L0.5,-1.1 L-10.5,-1.1 L-10.5,1.1 L0.5,1.1 L-0.5,3 Z"/>
<path transform="translate(270.3,596.0) rotate(100)" d="M10.5,0 L-0.5,-3 L0.5,-1.1 L-10.5,-1.1 L-10.5,1.1 L0.5,1.1 L-0.5,3 Z"/>
<path transform="translate(295.2,596.0) rotate(100)" d="M11.0,0 L0.0,-3 L1.0,-1.1 L-11.0,-1.1 L-11.0,1.1 L1.0,1.1 L0.0,3 Z"/>
<path transform="translate(320.2,596.0) rotate(90)" d="M11.0,0 L0.0,-3 L1.0,-1.1 L-11.0,-1.1 L-11.0,1.1 L1.0,1.1 L0.0,3 Z"/>
<path transform="translate(345.1,596.0) rotate(120)" d="M6.5,0 L-6,-3.2 L-5,0 L-6,3.2 Z"/>
<path transform="translate(370.1,596.0) rotate(180)" d="M6.5,0 L-6,-3.2 L-5,0 L-6,3.2 Z"/>
<path transform="translate(395.0,596.0) rotate(0)" d="M6.5,0 L-6,-3.2 L-5,0 L-6,3.2 Z"/>
<path transform="translate(420.0,596.0) rotate(50)" d="M6.5,0 L-6,-3.2 L-5,0 L-6,3.2 Z"/>
<path transform="translate(444.9,596.0) rotate(50)" d="M6.5,0 L-6,-3.2 L-5,0 L-6,3.2 Z"/>
<path transform="translate(70.7,620.9) rotate(90)" d="M6.5,0 L-6,-3.2 L-5,0 L-6,3.2 Z"/>
<path transform="translate(95.7,620.9) rotate(50)" d="M13.0,0 L2.0,-3 L3.0,-1.1 L-13.0,-1.1 L-13.0,1.1 L3.0,1.1 L2.0,3 Z"/>
<path transform="translate(120.6,620.9) rotate(50)" d="M13.0,0 L2.0,-3 L3.0,-1.1 L-13.0,-1.1 L-13.0,1.1 L3.0,1.1 L2.0,3 Z"/>
<path transform="translate(145.6,620.9) rotate(50)" d="M13.0,0 L2.0,-3 L3.0,-1.1 L-13.0,-1.1 L-13.0,1.1 L3.0,1.1 L2.0,3 Z"/>
<path transform="translate(170.5,620.9) rotate(50)" d="M13.0,0 L2.0,-3 L3.0,-1.1 L-13.0,-1.1 L-13.0,1.1 L3.0,1.1 L2.0,3 Z"/>
<path transform="translate(195.4,620.9) rotate(65)" d="M11.0,0 L0.0,-3 L1.0,-1.1 L-11.0,-1.1 L-11.0,1.1 L1.0,1.1 L0.0,3 Z"/>
<path transform="translate(220.4,620.9) rotate(90)" d="M11.0,0 L0.0,-3 L1.0,-1.1 L-11.0,-1.1 L-11.0,1.1 L1.0,1.1 L0.0,3 Z"/>
<path transform="translate(245.4,620.9) rotate(90)" d="M11.0,0 L0.0,-3 L1.0,-1.1 L-11.0,-1.1 L-11.0,1.1 L1.0,1.1 L0.0,3 Z"/>
<path transform="translate(270.3,620.9) rotate(90)" d="M11.0,0 L0.0,-3 L1.0,-1.1 L-11.0,-1.1 L-11.0,1.1 L1.0,1.1 L0.0,3 Z"/>
<path transform="translate(295.2,620.9) rotate(90)" d="M11.0,0 L0.0,-3 L1.0,-1.1 L-11.0,-1.1 L-11.0,1.1 L1.0,1.1 L0.0,3 Z"/>
<path transform="translate(320.2,620.9) rotate(90)" d="M11.0,0 L0.0,-3 L1.0,-1.1 L-11.0,-1.1 L-11.0,1.1 L1.0,1.1 L0.0,3 Z"/>
<path transform="translate(345.1,620.9) rotate(90)" d="M6.5,0 L-6,-3.2 L-5,0 L-6,3.2 Z"/>
<path transform="translate(370.1,620.9) rotate(135)" d="M6.5,0 L-6,-3.2 L-5,0 L-6,3.2 Z"/>
<path transform="translate(395.0,620.9) rotate(180)" d="M6.5,0 L-6,-3.2 L-5,0 L-6,3.2 Z"/>
<path transform="translate(420.0,620.9) rotate(130)" d="M6.5,0 L-6,-3.2 L-5,0 L-6,3.2 Z"/>
<path transform="translate(444.9,620.9) rotate(90)" d="M6.5,0 L-6,-3.2 L-5,0 L-6,3.2 Z"/>
<path transform="translate(70.7,645.9) rotate(45)" d="M6.5,0 L-6,-3.2 L-5,0 L-6,3.2 Z"/>
<path transform="translate(95.7,645.9) rotate(60)" d="M13.0,0 L2.0,-3 L3.0,-1.1 L-13.0,-1.1 L-13.0,1.1 L3.0,1.1 L2.0,3 Z"/>
<path transform="translate(120.6,645.9) rotate(50)" d="M13.0,0 L2.0,-3 L3.0,-1.1 L-13.0,-1.1 L-13.0,1.1 L3.0,1.1 L2.0,3 Z"/>
<path transform="translate(145.6,645.9) rotate(50)" d="M13.0,0 L2.0,-3 L3.0,-1.1 L-13.0,-1.1 L-13.0,1.1 L3.0,1.1 L2.0,3 Z"/>
<path transform="translate(170.5,645.9) rotate(40)" d="M13.0,0 L2.0,-3 L3.0,-1.1 L-13.0,-1.1 L-13.0,1.1 L3.0,1.1 L2.0,3 Z"/>
<path transform="translate(195.4,645.9) rotate(65)" d="M11.0,0 L0.0,-3 L1.0,-1.1 L-11.0,-1.1 L-11.0,1.1 L1.0,1.1 L0.0,3 Z"/>
<path transform="translate(220.4,645.9) rotate(65)" d="M11.0,0 L0.0,-3 L1.0,-1.1 L-11.0,-1.1 L-11.0,1.1 L1.0,1.1 L0.0,3 Z"/>
<path transform="translate(245.4,645.9) rotate(65)" d="M11.0,0 L0.0,-3 L1.0,-1.1 L-11.0,-1.1 L-11.0,1.1 L1.0,1.1 L0.0,3 Z"/>
<path transform="translate(270.3,645.9) rotate(75)" d="M11.0,0 L0.0,-3 L1.0,-1.1 L-11.0,-1.1 L-11.0,1.1 L1.0,1.1 L0.0,3 Z"/>
<path transform="translate(295.2,645.9) rotate(75)" d="M11.0,0 L0.0,-3 L1.0,-1.1 L-11.0,-1.1 L-11.0,1.1 L1.0,1.1 L0.0,3 Z"/>
<path transform="translate(320.2,645.9) rotate(90)" d="M11.0,0 L0.0,-3 L1.0,-1.1 L-11.0,-1.1 L-11.0,1.1 L1.0,1.1 L0.0,3 Z"/>
<path transform="translate(345.1,645.9) rotate(90)" d="M11.0,0 L0.0,-3 L1.0,-1.1 L-11.0,-1.1 L-11.0,1.1 L1.0,1.1 L0.0,3 Z"/>
<path transform="translate(370.1,645.9) rotate(135)" d="M9.5,0 L-1.5,-3 L-0.5,-1.1 L-9.5,-1.1 L-9.5,1.1 L-0.5,1.1 L-1.5,3 Z"/>
<path transform="translate(395.0,645.9) rotate(190)" d="M9.5,0 L-1.5,-3 L-0.5,-1.1 L-9.5,-1.1 L-9.5,1.1 L-0.5,1.1 L-1.5,3 Z"/>
<path transform="translate(420.0,645.9) rotate(55)" d="M13.0,0 L2.0,-3 L3.0,-1.1 L-13.0,-1.1 L-13.0,1.1 L3.0,1.1 L2.0,3 Z"/>
<path transform="translate(444.9,645.9) rotate(80)" d="M6.5,0 L-6,-3.2 L-5,0 L-6,3.2 Z"/>
<path transform="translate(70.7,670.8) rotate(200)" d="M6.5,0 L-6,-3.2 L-5,0 L-6,3.2 Z"/>
<path transform="translate(95.7,670.8) rotate(45)" d="M13.0,0 L2.0,-3 L3.0,-1.1 L-13.0,-1.1 L-13.0,1.1 L3.0,1.1 L2.0,3 Z"/>
<path transform="translate(120.6,670.8) rotate(40)" d="M13.0,0 L2.0,-3 L3.0,-1.1 L-13.0,-1.1 L-13.0,1.1 L3.0,1.1 L2.0,3 Z"/>
<path transform="translate(145.6,670.8) rotate(45)" d="M13.0,0 L2.0,-3 L3.0,-1.1 L-13.0,-1.1 L-13.0,1.1 L3.0,1.1 L2.0,3 Z"/>
<path transform="translate(170.5,670.8) rotate(40)" d="M13.0,0 L2.0,-3 L3.0,-1.1 L-13.0,-1.1 L-13.0,1.1 L3.0,1.1 L2.0,3 Z"/>
<path transform="translate(195.4,670.8) rotate(45)" d="M13.0,0 L2.0,-3 L3.0,-1.1 L-13.0,-1.1 L-13.0,1.1 L3.0,1.1 L2.0,3 Z"/>
<path transform="translate(220.4,670.8) rotate(40)" d="M13.0,0 L2.0,-3 L3.0,-1.1 L-13.0,-1.1 L-13.0,1.1 L3.0,1.1 L2.0,3 Z"/>
<path transform="translate(245.4,670.8) rotate(40)" d="M13.0,0 L2.0,-3 L3.0,-1.1 L-13.0,-1.1 L-13.0,1.1 L3.0,1.1 L2.0,3 Z"/>
<path transform="translate(270.3,670.8) rotate(45)" d="M13.0,0 L2.0,-3 L3.0,-1.1 L-13.0,-1.1 L-13.0,1.1 L3.0,1.1 L2.0,3 Z"/>
<path transform="translate(295.2,670.8) rotate(55)" d="M11.0,0 L0.0,-3 L1.0,-1.1 L-11.0,-1.1 L-11.0,1.1 L1.0,1.1 L0.0,3 Z"/>
<path transform="translate(320.2,670.8) rotate(70)" d="M9.0,0 L-2.0,-3 L-1.0,-1.1 L-9.0,-1.1 L-9.0,1.1 L-1.0,1.1 L-2.0,3 Z"/>
<path transform="translate(345.1,670.8) rotate(145)" d="M9.0,0 L-2.0,-3 L-1.0,-1.1 L-9.0,-1.1 L-9.0,1.1 L-1.0,1.1 L-2.0,3 Z"/>
<path transform="translate(370.1,670.8) rotate(150)" d="M9.0,0 L-2.0,-3 L-1.0,-1.1 L-9.0,-1.1 L-9.0,1.1 L-1.0,1.1 L-2.0,3 Z"/>
<path transform="translate(395.0,670.8) rotate(180)" d="M9.0,0 L-2.0,-3 L-1.0,-1.1 L-9.0,-1.1 L-9.0,1.1 L-1.0,1.1 L-2.0,3 Z"/>
<path transform="translate(420.0,670.8) rotate(170)" d="M9.0,0 L-2.0,-3 L-1.0,-1.1 L-9.0,-1.1 L-9.0,1.1 L-1.0,1.1 L-2.0,3 Z"/>
<path transform="translate(444.9,670.8) rotate(50)" d="M6.5,0 L-6,-3.2 L-5,0 L-6,3.2 Z"/>
<path transform="translate(70.7,695.8) rotate(180)" d="M6.5,0 L-6,-3.2 L-5,0 L-6,3.2 Z"/>
<path transform="translate(95.7,695.8) rotate(180)" d="M6.5,0 L-6,-3.2 L-5,0 L-6,3.2 Z"/>
<path transform="translate(120.6,695.8) rotate(45)" d="M6.5,0 L-6,-3.2 L-5,0 L-6,3.2 Z"/>
<path transform="translate(145.6,695.8) rotate(45)" d="M13.0,0 L2.0,-3 L3.0,-1.1 L-13.0,-1.1 L-13.0,1.1 L3.0,1.1 L2.0,3 Z"/>
<path transform="translate(170.5,695.8) rotate(200)" d="M13.0,0 L2.0,-3 L3.0,-1.1 L-13.0,-1.1 L-13.0,1.1 L3.0,1.1 L2.0,3 Z"/>
<path transform="translate(195.4,695.8) rotate(40)" d="M13.0,0 L2.0,-3 L3.0,-1.1 L-13.0,-1.1 L-13.0,1.1 L3.0,1.1 L2.0,3 Z"/>
<path transform="translate(220.4,695.8) rotate(40)" d="M13.0,0 L2.0,-3 L3.0,-1.1 L-13.0,-1.1 L-13.0,1.1 L3.0,1.1 L2.0,3 Z"/>
<path transform="translate(245.4,695.8) rotate(40)" d="M13.0,0 L2.0,-3 L3.0,-1.1 L-13.0,-1.1 L-13.0,1.1 L3.0,1.1 L2.0,3 Z"/>
<path transform="translate(270.3,695.8) rotate(45)" d="M13.0,0 L2.0,-3 L3.0,-1.1 L-13.0,-1.1 L-13.0,1.1 L3.0,1.1 L2.0,3 Z"/>
<path transform="translate(295.2,695.8) rotate(55)" d="M11.0,0 L0.0,-3 L1.0,-1.1 L-11.0,-1.1 L-11.0,1.1 L1.0,1.1 L0.0,3 Z"/>
<path transform="translate(320.2,695.8) rotate(85)" d="M11.0,0 L0.0,-3 L1.0,-1.1 L-11.0,-1.1 L-11.0,1.1 L1.0,1.1 L0.0,3 Z"/>
<path transform="translate(345.1,695.8) rotate(155)" d="M9.0,0 L-2.0,-3 L-1.0,-1.1 L-9.0,-1.1 L-9.0,1.1 L-1.0,1.1 L-2.0,3 Z"/>
<path transform="translate(370.1,695.8) rotate(150)" d="M9.0,0 L-2.0,-3 L-1.0,-1.1 L-9.0,-1.1 L-9.0,1.1 L-1.0,1.1 L-2.0,3 Z"/>
<path transform="translate(395.0,695.8) rotate(180)" d="M9.0,0 L-2.0,-3 L-1.0,-1.1 L-9.0,-1.1 L-9.0,1.1 L-1.0,1.1 L-2.0,3 Z"/>
<path transform="translate(420.0,695.8) rotate(195)" d="M9.0,0 L-2.0,-3 L-1.0,-1.1 L-9.0,-1.1 L-9.0,1.1 L-1.0,1.1 L-2.0,3 Z"/>
<path transform="translate(444.9,695.8) rotate(50)" d="M6.5,0 L-6,-3.2 L-5,0 L-6,3.2 Z"/>
<path transform="translate(70.7,720.7) rotate(45)" d="M6.5,0 L-6,-3.2 L-5,0 L-6,3.2 Z"/>
<path transform="translate(95.7,720.7) rotate(180)" d="M6.5,0 L-6,-3.2 L-5,0 L-6,3.2 Z"/>
<path transform="translate(120.6,720.7) rotate(45)" d="M6.5,0 L-6,-3.2 L-5,0 L-6,3.2 Z"/>
<path transform="translate(145.6,720.7) rotate(45)" d="M13.0,0 L2.0,-3 L3.0,-1.1 L-13.0,-1.1 L-13.0,1.1 L3.0,1.1 L2.0,3 Z"/>
<path transform="translate(170.5,720.7) rotate(40)" d="M13.0,0 L2.0,-3 L3.0,-1.1 L-13.0,-1.1 L-13.0,1.1 L3.0,1.1 L2.0,3 Z"/>
<path transform="translate(195.4,720.7) rotate(35)" d="M13.0,0 L2.0,-3 L3.0,-1.1 L-13.0,-1.1 L-13.0,1.1 L3.0,1.1 L2.0,3 Z"/>
<path transform="translate(220.4,720.7) rotate(35)" d="M13.0,0 L2.0,-3 L3.0,-1.1 L-13.0,-1.1 L-13.0,1.1 L3.0,1.1 L2.0,3 Z"/>
<path transform="translate(245.4,720.7) rotate(40)" d="M13.0,0 L2.0,-3 L3.0,-1.1 L-13.0,-1.1 L-13.0,1.1 L3.0,1.1 L2.0,3 Z"/>
<path transform="translate(270.3,720.7) rotate(40)" d="M13.0,0 L2.0,-3 L3.0,-1.1 L-13.0,-1.1 L-13.0,1.1 L3.0,1.1 L2.0,3 Z"/>
<path transform="translate(295.2,720.7) rotate(80)" d="M6.5,0 L-6,-3.2 L-5,0 L-6,3.2 Z"/>
<path transform="translate(320.2,720.7) rotate(85)" d="M9.0,0 L-2.0,-3 L-1.0,-1.1 L-9.0,-1.1 L-9.0,1.1 L-1.0,1.1 L-2.0,3 Z"/>
<path transform="translate(345.1,720.7) rotate(190)" d="M9.0,0 L-2.0,-3 L-1.0,-1.1 L-9.0,-1.1 L-9.0,1.1 L-1.0,1.1 L-2.0,3 Z"/>
<path transform="translate(370.1,720.7) rotate(185)" d="M9.0,0 L-2.0,-3 L-1.0,-1.1 L-9.0,-1.1 L-9.0,1.1 L-1.0,1.1 L-2.0,3 Z"/>
<path transform="translate(395.0,720.7) rotate(185)" d="M9.0,0 L-2.0,-3 L-1.0,-1.1 L-9.0,-1.1 L-9.0,1.1 L-1.0,1.1 L-2.0,3 Z"/>
<path transform="translate(420.0,720.7) rotate(190)" d="M9.5,0 L-1.5,-3 L-0.5,-1.1 L-9.5,-1.1 L-9.5,1.1 L-0.5,1.1 L-1.5,3 Z"/>
<path transform="translate(444.9,720.7) rotate(45)" d="M6.5,0 L-6,-3.2 L-5,0 L-6,3.2 Z"/>
<path transform="translate(70.7,745.6) rotate(270)" d="M6.5,0 L-6,-3.2 L-5,0 L-6,3.2 Z"/>
<path transform="translate(95.7,745.6) rotate(15)" d="M6.5,0 L-6,-3.2 L-5,0 L-6,3.2 Z"/>
<path transform="translate(120.6,745.6) rotate(0)" d="M6.5,0 L-6,-3.2 L-5,0 L-6,3.2 Z"/>
<path transform="translate(145.6,745.6) rotate(30)" d="M12.0,0 L1.0,-3 L2.0,-1.1 L-12.0,-1.1 L-12.0,1.1 L2.0,1.1 L1.0,3 Z"/>
<path transform="translate(170.5,745.6) rotate(25)" d="M12.0,0 L1.0,-3 L2.0,-1.1 L-12.0,-1.1 L-12.0,1.1 L2.0,1.1 L1.0,3 Z"/>
<path transform="translate(195.4,745.6) rotate(20)" d="M12.0,0 L1.0,-3 L2.0,-1.1 L-12.0,-1.1 L-12.0,1.1 L2.0,1.1 L1.0,3 Z"/>
<path transform="translate(220.4,745.6) rotate(20)" d="M12.0,0 L1.0,-3 L2.0,-1.1 L-12.0,-1.1 L-12.0,1.1 L2.0,1.1 L1.0,3 Z"/>
<path transform="translate(245.4,745.6) rotate(15)" d="M12.0,0 L1.0,-3 L2.0,-1.1 L-12.0,-1.1 L-12.0,1.1 L2.0,1.1 L1.0,3 Z"/>
<path transform="translate(270.3,745.6) rotate(40)" d="M6.5,0 L-6,-3.2 L-5,0 L-6,3.2 Z"/>
<path transform="translate(295.2,745.6) rotate(90)" d="M6.5,0 L-6,-3.2 L-5,0 L-6,3.2 Z"/>
<path transform="translate(320.2,745.6) rotate(190)" d="M9.0,0 L-2.0,-3 L-1.0,-1.1 L-9.0,-1.1 L-9.0,1.1 L-1.0,1.1 L-2.0,3 Z"/>
<path transform="translate(345.1,745.6) rotate(215)" d="M12.5,0 L1.5,-3 L2.5,-1.1 L-12.5,-1.1 L-12.5,1.1 L2.5,1.1 L1.5,3 Z"/>
<path transform="translate(370.1,745.6) rotate(185)" d="M9.0,0 L-2.0,-3 L-1.0,-1.1 L-9.0,-1.1 L-9.0,1.1 L-1.0,1.1 L-2.0,3 Z"/>
<path transform="translate(395.0,745.6) rotate(185)" d="M9.0,0 L-2.0,-3 L-1.0,-1.1 L-9.0,-1.1 L-9.0,1.1 L-1.0,1.1 L-2.0,3 Z"/>
<path transform="translate(420.0,745.6) rotate(180)" d="M9.0,0 L-2.0,-3 L-1.0,-1.1 L-9.0,-1.1 L-9.0,1.1 L-1.0,1.1 L-2.0,3 Z"/>
<path transform="translate(444.9,745.6) rotate(180)" d="M12.0,0 L1.0,-3 L2.0,-1.1 L-12.0,-1.1 L-12.0,1.1 L2.0,1.1 L1.0,3 Z"/>
<path transform="translate(70.7,770.6) rotate(270)" d="M6.5,0 L-6,-3.2 L-5,0 L-6,3.2 Z"/>
<path transform="translate(95.7,770.6) rotate(315)" d="M10.5,0 L-0.5,-3 L0.5,-1.1 L-10.5,-1.1 L-10.5,1.1 L0.5,1.1 L-0.5,3 Z"/>
<path transform="translate(120.6,770.6) rotate(0)" d="M10.5,0 L-0.5,-3 L0.5,-1.1 L-10.5,-1.1 L-10.5,1.1 L0.5,1.1 L-0.5,3 Z"/>
<path transform="translate(145.6,770.6) rotate(10)" d="M10.5,0 L-0.5,-3 L0.5,-1.1 L-10.5,-1.1 L-10.5,1.1 L0.5,1.1 L-0.5,3 Z"/>
<path transform="translate(170.5,770.6) rotate(10)" d="M10.5,0 L-0.5,-3 L0.5,-1.1 L-10.5,-1.1 L-10.5,1.1 L0.5,1.1 L-0.5,3 Z"/>
<path transform="translate(195.4,770.6) rotate(15)" d="M10.5,0 L-0.5,-3 L0.5,-1.1 L-10.5,-1.1 L-10.5,1.1 L0.5,1.1 L-0.5,3 Z"/>
<path transform="translate(220.4,770.6) rotate(305)" d="M10.5,0 L-0.5,-3 L0.5,-1.1 L-10.5,-1.1 L-10.5,1.1 L0.5,1.1 L-0.5,3 Z"/>
<path transform="translate(245.4,770.6) rotate(310)" d="M10.5,0 L-0.5,-3 L0.5,-1.1 L-10.5,-1.1 L-10.5,1.1 L0.5,1.1 L-0.5,3 Z"/>
<path transform="translate(270.3,770.6) rotate(320)" d="M10.0,0 L-1.0,-3 L0.0,-1.1 L-10.0,-1.1 L-10.0,1.1 L0.0,1.1 L-1.0,3 Z"/>
<path transform="translate(295.2,770.6) rotate(270)" d="M10.0,0 L-1.0,-3 L0.0,-1.1 L-10.0,-1.1 L-10.0,1.1 L0.0,1.1 L-1.0,3 Z"/>
<path transform="translate(320.2,770.6) rotate(225)" d="M12.5,0 L1.5,-3 L2.5,-1.1 L-12.5,-1.1 L-12.5,1.1 L2.5,1.1 L1.5,3 Z"/>
<path transform="translate(345.1,770.6) rotate(225)" d="M12.5,0 L1.5,-3 L2.5,-1.1 L-12.5,-1.1 L-12.5,1.1 L2.5,1.1 L1.5,3 Z"/>
<path transform="translate(370.1,770.6) rotate(220)" d="M12.5,0 L1.5,-3 L2.5,-1.1 L-12.5,-1.1 L-12.5,1.1 L2.5,1.1 L1.5,3 Z"/>
<path transform="translate(395.0,770.6) rotate(185)" d="M9.0,0 L-2.0,-3 L-1.0,-1.1 L-9.0,-1.1 L-9.0,1.1 L-1.0,1.1 L-2.0,3 Z"/>
<path transform="translate(420.0,770.6) rotate(185)" d="M12.5,0 L1.5,-3 L2.5,-1.1 L-12.5,-1.1 L-12.5,1.1 L2.5,1.1 L1.5,3 Z"/>
<path transform="translate(444.9,770.6) rotate(50)" d="M10.0,0 L-1.0,-3 L0.0,-1.1 L-10.0,-1.1 L-10.0,1.1 L0.0,1.1 L-1.0,3 Z"/>
<path transform="translate(70.7,795.5) rotate(150)" d="M6.5,0 L-6,-3.2 L-5,0 L-6,3.2 Z"/>
<path transform="translate(95.7,795.5) rotate(320)" d="M6.5,0 L-6,-3.2 L-5,0 L-6,3.2 Z"/>
<path transform="translate(120.6,795.5) rotate(150)" d="M6.5,0 L-6,-3.2 L-5,0 L-6,3.2 Z"/>
<path transform="translate(145.6,795.5) rotate(5)" d="M10.5,0 L-0.5,-3 L0.5,-1.1 L-10.5,-1.1 L-10.5,1.1 L0.5,1.1 L-0.5,3 Z"/>
<path transform="translate(170.5,795.5) rotate(10)" d="M10.5,0 L-0.5,-3 L0.5,-1.1 L-10.5,-1.1 L-10.5,1.1 L0.5,1.1 L-0.5,3 Z"/>
<path transform="translate(195.4,795.5) rotate(0)" d="M10.5,0 L-0.5,-3 L0.5,-1.1 L-10.5,-1.1 L-10.5,1.1 L0.5,1.1 L-0.5,3 Z"/>
<path transform="translate(220.4,795.5) rotate(300)" d="M10.5,0 L-0.5,-3 L0.5,-1.1 L-10.5,-1.1 L-10.5,1.1 L0.5,1.1 L-0.5,3 Z"/>
<path transform="translate(245.4,795.5) rotate(300)" d="M10.5,0 L-0.5,-3 L0.5,-1.1 L-10.5,-1.1 L-10.5,1.1 L0.5,1.1 L-0.5,3 Z"/>
<path transform="translate(270.3,795.5) rotate(280)" d="M10.5,0 L-0.5,-3 L0.5,-1.1 L-10.5,-1.1 L-10.5,1.1 L0.5,1.1 L-0.5,3 Z"/>
<path transform="translate(295.2,795.5) rotate(275)" d="M10.0,0 L-1.0,-3 L0.0,-1.1 L-10.0,-1.1 L-10.0,1.1 L0.0,1.1 L-1.0,3 Z"/>
<path transform="translate(320.2,795.5) rotate(260)" d="M12.5,0 L1.5,-3 L2.5,-1.1 L-12.5,-1.1 L-12.5,1.1 L2.5,1.1 L1.5,3 Z"/>
<path transform="translate(345.1,795.5) rotate(220)" d="M12.5,0 L1.5,-3 L2.5,-1.1 L-12.5,-1.1 L-12.5,1.1 L2.5,1.1 L1.5,3 Z"/>
<path transform="translate(370.1,795.5) rotate(215)" d="M12.5,0 L1.5,-3 L2.5,-1.1 L-12.5,-1.1 L-12.5,1.1 L2.5,1.1 L1.5,3 Z"/>
<path transform="translate(395.0,795.5) rotate(190)" d="M9.0,0 L-2.0,-3 L-1.0,-1.1 L-9.0,-1.1 L-9.0,1.1 L-1.0,1.1 L-2.0,3 Z"/>
<path transform="translate(420.0,795.5) rotate(195)" d="M12.5,0 L1.5,-3 L2.5,-1.1 L-12.5,-1.1 L-12.5,1.1 L2.5,1.1 L1.5,3 Z"/>
<path transform="translate(444.9,795.5) rotate(315)" d="M6.5,0 L-6,-3.2 L-5,0 L-6,3.2 Z"/>
<path transform="translate(70.7,820.5) rotate(130)" d="M6.5,0 L-6,-3.2 L-5,0 L-6,3.2 Z"/>
<path transform="translate(95.7,820.5) rotate(315)" d="M6.5,0 L-6,-3.2 L-5,0 L-6,3.2 Z"/>
<path transform="translate(120.6,820.5) rotate(320)" d="M10.5,0 L-0.5,-3 L0.5,-1.1 L-10.5,-1.1 L-10.5,1.1 L0.5,1.1 L-0.5,3 Z"/>
<path transform="translate(145.6,820.5) rotate(10)" d="M10.5,0 L-0.5,-3 L0.5,-1.1 L-10.5,-1.1 L-10.5,1.1 L0.5,1.1 L-0.5,3 Z"/>
<path transform="translate(170.5,820.5) rotate(320)" d="M10.5,0 L-0.5,-3 L0.5,-1.1 L-10.5,-1.1 L-10.5,1.1 L0.5,1.1 L-0.5,3 Z"/>
<path transform="translate(195.4,820.5) rotate(310)" d="M10.5,0 L-0.5,-3 L0.5,-1.1 L-10.5,-1.1 L-10.5,1.1 L0.5,1.1 L-0.5,3 Z"/>
<path transform="translate(220.4,820.5) rotate(300)" d="M10.5,0 L-0.5,-3 L0.5,-1.1 L-10.5,-1.1 L-10.5,1.1 L0.5,1.1 L-0.5,3 Z"/>
<path transform="translate(245.4,820.5) rotate(300)" d="M10.5,0 L-0.5,-3 L0.5,-1.1 L-10.5,-1.1 L-10.5,1.1 L0.5,1.1 L-0.5,3 Z"/>
<path transform="translate(270.3,820.5) rotate(275)" d="M10.5,0 L-0.5,-3 L0.5,-1.1 L-10.5,-1.1 L-10.5,1.1 L0.5,1.1 L-0.5,3 Z"/>
<path transform="translate(295.2,820.5) rotate(270)" d="M10.0,0 L-1.0,-3 L0.0,-1.1 L-10.0,-1.1 L-10.0,1.1 L0.0,1.1 L-1.0,3 Z"/>
<path transform="translate(320.2,820.5) rotate(240)" d="M12.5,0 L1.5,-3 L2.5,-1.1 L-12.5,-1.1 L-12.5,1.1 L2.5,1.1 L1.5,3 Z"/>
<path transform="translate(345.1,820.5) rotate(225)" d="M12.5,0 L1.5,-3 L2.5,-1.1 L-12.5,-1.1 L-12.5,1.1 L2.5,1.1 L1.5,3 Z"/>
<path transform="translate(370.1,820.5) rotate(225)" d="M12.5,0 L1.5,-3 L2.5,-1.1 L-12.5,-1.1 L-12.5,1.1 L2.5,1.1 L1.5,3 Z"/>
<path transform="translate(395.0,820.5) rotate(210)" d="M9.0,0 L-2.0,-3 L-1.0,-1.1 L-9.0,-1.1 L-9.0,1.1 L-1.0,1.1 L-2.0,3 Z"/>
<path transform="translate(420.0,820.5) rotate(60)" d="M12.5,0 L1.5,-3 L2.5,-1.1 L-12.5,-1.1 L-12.5,1.1 L2.5,1.1 L1.5,3 Z"/>
<path transform="translate(444.9,820.5) rotate(180)" d="M6.5,0 L-6,-3.2 L-5,0 L-6,3.2 Z"/>
<path transform="translate(70.7,845.5) rotate(280)" d="M6.5,0 L-6,-3.2 L-5,0 L-6,3.2 Z"/>
<path transform="translate(95.7,845.5) rotate(10)" d="M6.5,0 L-6,-3.2 L-5,0 L-6,3.2 Z"/>
<path transform="translate(120.6,845.5) rotate(15)" d="M10.5,0 L-0.5,-3 L0.5,-1.1 L-10.5,-1.1 L-10.5,1.1 L0.5,1.1 L-0.5,3 Z"/>
<path transform="translate(145.6,845.5) rotate(30)" d="M10.5,0 L-0.5,-3 L0.5,-1.1 L-10.5,-1.1 L-10.5,1.1 L0.5,1.1 L-0.5,3 Z"/>
<path transform="translate(170.5,845.5) rotate(320)" d="M10.5,0 L-0.5,-3 L0.5,-1.1 L-10.5,-1.1 L-10.5,1.1 L0.5,1.1 L-0.5,3 Z"/>
<path transform="translate(195.4,845.5) rotate(305)" d="M10.5,0 L-0.5,-3 L0.5,-1.1 L-10.5,-1.1 L-10.5,1.1 L0.5,1.1 L-0.5,3 Z"/>
<path transform="translate(220.4,845.5) rotate(300)" d="M10.5,0 L-0.5,-3 L0.5,-1.1 L-10.5,-1.1 L-10.5,1.1 L0.5,1.1 L-0.5,3 Z"/>
<path transform="translate(245.4,845.5) rotate(300)" d="M10.5,0 L-0.5,-3 L0.5,-1.1 L-10.5,-1.1 L-10.5,1.1 L0.5,1.1 L-0.5,3 Z"/>
<path transform="translate(270.3,845.5) rotate(275)" d="M10.5,0 L-0.5,-3 L0.5,-1.1 L-10.5,-1.1 L-10.5,1.1 L0.5,1.1 L-0.5,3 Z"/>
<path transform="translate(295.2,845.5) rotate(255)" d="M10.0,0 L-1.0,-3 L0.0,-1.1 L-10.0,-1.1 L-10.0,1.1 L0.0,1.1 L-1.0,3 Z"/>
<path transform="translate(320.2,845.5) rotate(250)" d="M10.0,0 L-1.0,-3 L0.0,-1.1 L-10.0,-1.1 L-10.0,1.1 L0.0,1.1 L-1.0,3 Z"/>
<path transform="translate(345.1,845.5) rotate(230)" d="M12.5,0 L1.5,-3 L2.5,-1.1 L-12.5,-1.1 L-12.5,1.1 L2.5,1.1 L1.5,3 Z"/>
<path transform="translate(370.1,845.5) rotate(225)" d="M9.0,0 L-2.0,-3 L-1.0,-1.1 L-9.0,-1.1 L-9.0,1.1 L-1.0,1.1 L-2.0,3 Z"/>
<path transform="translate(395.0,845.5) rotate(55)" d="M6.5,0 L-6,-3.2 L-5,0 L-6,3.2 Z"/>
<path transform="translate(420.0,845.5) rotate(55)" d="M6.5,0 L-6,-3.2 L-5,0 L-6,3.2 Z"/>
<path transform="translate(444.9,845.5) rotate(125)" d="M6.5,0 L-6,-3.2 L-5,0 L-6,3.2 Z"/>
<path transform="translate(70.7,870.4) rotate(170)" d="M6.5,0 L-6,-3.2 L-5,0 L-6,3.2 Z"/>
<path transform="translate(95.7,870.4) rotate(20)" d="M6.5,0 L-6,-3.2 L-5,0 L-6,3.2 Z"/>
<path transform="translate(120.6,870.4) rotate(10)" d="M10.5,0 L-0.5,-3 L0.5,-1.1 L-10.5,-1.1 L-10.5,1.1 L0.5,1.1 L-0.5,3 Z"/>
<path transform="translate(145.6,870.4) rotate(5)" d="M10.5,0 L-0.5,-3 L0.5,-1.1 L-10.5,-1.1 L-10.5,1.1 L0.5,1.1 L-0.5,3 Z"/>
<path transform="translate(170.5,870.4) rotate(30)" d="M10.5,0 L-0.5,-3 L0.5,-1.1 L-10.5,-1.1 L-10.5,1.1 L0.5,1.1 L-0.5,3 Z"/>
<path transform="translate(195.4,870.4) rotate(310)" d="M10.5,0 L-0.5,-3 L0.5,-1.1 L-10.5,-1.1 L-10.5,1.1 L0.5,1.1 L-0.5,3 Z"/>
<path transform="translate(220.4,870.4) rotate(305)" d="M10.5,0 L-0.5,-3 L0.5,-1.1 L-10.5,-1.1 L-10.5,1.1 L0.5,1.1 L-0.5,3 Z"/>
<path transform="translate(245.4,870.4) rotate(305)" d="M10.0,0 L-1.0,-3 L0.0,-1.1 L-10.0,-1.1 L-10.0,1.1 L0.0,1.1 L-1.0,3 Z"/>
<path transform="translate(270.3,870.4) rotate(270)" d="M10.5,0 L-0.5,-3 L0.5,-1.1 L-10.5,-1.1 L-10.5,1.1 L0.5,1.1 L-0.5,3 Z"/>
<path transform="translate(295.2,870.4) rotate(240)" d="M6.5,0 L-6,-3.2 L-5,0 L-6,3.2 Z"/>
<path transform="translate(320.2,870.4) rotate(30)" d="M6.5,0 L-6,-3.2 L-5,0 L-6,3.2 Z"/>
<path transform="translate(345.1,870.4) rotate(160)" d="M6.5,0 L-6,-3.2 L-5,0 L-6,3.2 Z"/>
<path transform="translate(370.1,870.4) rotate(95)" d="M6.5,0 L-6,-3.2 L-5,0 L-6,3.2 Z"/>
<path transform="translate(395.0,870.4) rotate(165)" d="M6.5,0 L-6,-3.2 L-5,0 L-6,3.2 Z"/>
<path transform="translate(420.0,870.4) rotate(125)" d="M6.5,0 L-6,-3.2 L-5,0 L-6,3.2 Z"/>
<path transform="translate(444.9,870.4) rotate(100)" d="M11.0,0 L0.0,-3 L1.0,-1.1 L-11.0,-1.1 L-11.0,1.1 L1.0,1.1 L0.0,3 Z"/>
<path transform="translate(70.7,895.4) rotate(35)" d="M13.0,0 L2.0,-3 L3.0,-1.1 L-13.0,-1.1 L-13.0,1.1 L3.0,1.1 L2.0,3 Z"/>
<path transform="translate(95.7,895.4) rotate(40)" d="M13.0,0 L2.0,-3 L3.0,-1.1 L-13.0,-1.1 L-13.0,1.1 L3.0,1.1 L2.0,3 Z"/>
<path transform="translate(120.6,895.4) rotate(90)" d="M10.5,0 L-0.5,-3 L0.5,-1.1 L-10.5,-1.1 L-10.5,1.1 L0.5,1.1 L-0.5,3 Z"/>
<path transform="translate(145.6,895.4) rotate(5)" d="M10.5,0 L-0.5,-3 L0.5,-1.1 L-10.5,-1.1 L-10.5,1.1 L0.5,1.1 L-0.5,3 Z"/>
<path transform="translate(170.5,895.4) rotate(5)" d="M10.5,0 L-0.5,-3 L0.5,-1.1 L-10.5,-1.1 L-10.5,1.1 L0.5,1.1 L-0.5,3 Z"/>
<path transform="translate(195.4,895.4) rotate(5)" d="M12.0,0 L1.0,-3 L2.0,-1.1 L-12.0,-1.1 L-12.0,1.1 L2.0,1.1 L1.0,3 Z"/>
<path transform="translate(220.4,895.4) rotate(10)" d="M12.0,0 L1.0,-3 L2.0,-1.1 L-12.0,-1.1 L-12.0,1.1 L2.0,1.1 L1.0,3 Z"/>
<path transform="translate(245.4,895.4) rotate(15)" d="M13.0,0 L2.0,-3 L3.0,-1.1 L-13.0,-1.1 L-13.0,1.1 L3.0,1.1 L2.0,3 Z"/>
<path transform="translate(270.3,895.4) rotate(170)" d="M6.5,0 L-6,-3.2 L-5,0 L-6,3.2 Z"/>
<path transform="translate(295.2,895.4) rotate(50)" d="M6.5,0 L-6,-3.2 L-5,0 L-6,3.2 Z"/>
<path transform="translate(320.2,895.4) rotate(170)" d="M6.5,0 L-6,-3.2 L-5,0 L-6,3.2 Z"/>
<path transform="translate(345.1,895.4) rotate(160)" d="M6.5,0 L-6,-3.2 L-5,0 L-6,3.2 Z"/>
<path transform="translate(370.1,895.4) rotate(170)" d="M6.5,0 L-6,-3.2 L-5,0 L-6,3.2 Z"/>
<path transform="translate(395.0,895.4) rotate(60)" d="M11.0,0 L0.0,-3 L1.0,-1.1 L-11.0,-1.1 L-11.0,1.1 L1.0,1.1 L0.0,3 Z"/>
<path transform="translate(420.0,895.4) rotate(95)" d="M11.0,0 L0.0,-3 L1.0,-1.1 L-11.0,-1.1 L-11.0,1.1 L1.0,1.1 L0.0,3 Z"/>
<path transform="translate(444.9,895.4) rotate(90)" d="M11.0,0 L0.0,-3 L1.0,-1.1 L-11.0,-1.1 L-11.0,1.1 L1.0,1.1 L0.0,3 Z"/>
</g>
<circle cx="191" cy="639.3" r="10.5" fill="#e8101c"/>
<circle cx="348" cy="643.5" r="10.5" fill="#e8101c"/>
<circle cx="191.5" cy="787.5" r="10.5" fill="#e8101c"/>
<circle cx="348" cy="788" r="10.5" fill="#e8101c"/>
<rect x="58.2" y="521.9" width="408.1" height="394.8" fill="none" stroke="#111" stroke-width="2"/>
</svg>
</body></html>
